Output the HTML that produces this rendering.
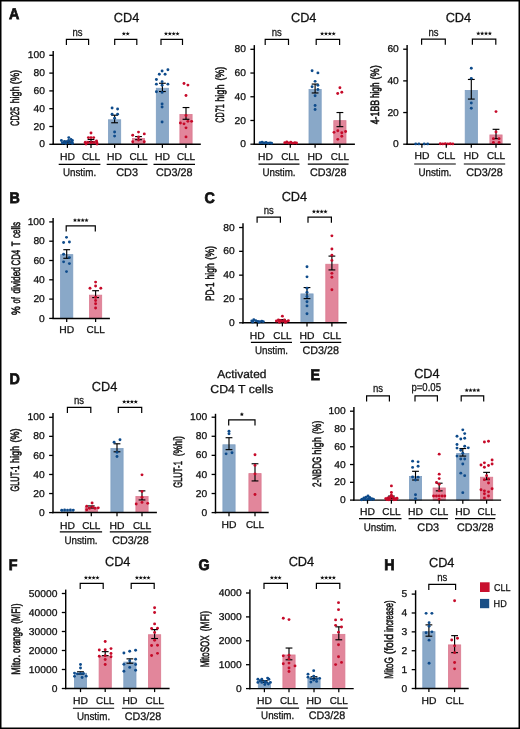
<!DOCTYPE html>
<html><head><meta charset="utf-8"><style>
html,body{margin:0;padding:0;background:#fff;}
svg{display:block;will-change:transform;}
text{text-rendering:geometricPrecision;font-family:"Liberation Sans",sans-serif;fill:#111;stroke:#111;stroke-width:0.28px;}
</style></head><body>
<svg width="520" height="729" viewBox="0 0 520 729">
<defs><g id="ast"><circle r="1.15" fill="#111"/><path d="M0,0L0.00,-1.55M0,0L1.47,-0.48M0,0L0.91,1.25M0,0L-0.91,1.25M0,0L-1.47,-0.48" stroke="#111" stroke-width="0.6" stroke-linecap="round"/></g></defs>
<rect x="0" y="0" width="520" height="729" fill="#fff"/>
<rect x="61.30" y="142.48" width="12.20" height="1.82" fill="#89a8c8" stroke="#7f9fc2" stroke-width="0.8"/>
<rect x="84.90" y="141.14" width="12.20" height="3.16" fill="#e2869b" stroke="#db7b91" stroke-width="0.8"/>
<rect x="108.50" y="119.78" width="12.20" height="24.52" fill="#89a8c8" stroke="#7f9fc2" stroke-width="0.8"/>
<rect x="132.40" y="138.47" width="12.20" height="5.83" fill="#e2869b" stroke="#db7b91" stroke-width="0.8"/>
<rect x="156.30" y="88.27" width="12.20" height="56.03" fill="#89a8c8" stroke="#7f9fc2" stroke-width="0.8"/>
<rect x="179.90" y="114.44" width="12.20" height="29.86" fill="#e2869b" stroke="#db7b91" stroke-width="0.8"/>
<line x1="53.20" y1="51.00" x2="53.20" y2="145.00" stroke="#000" stroke-width="1.45"/>
<line x1="52.50" y1="144.30" x2="200.80" y2="144.30" stroke="#000" stroke-width="1.45"/>
<line x1="67.40" y1="142.70" x2="67.40" y2="141.27" stroke="#000" stroke-width="1.15"/>
<line x1="64.00" y1="142.70" x2="70.80" y2="142.70" stroke="#000" stroke-width="1.15"/>
<line x1="64.00" y1="141.27" x2="70.80" y2="141.27" stroke="#000" stroke-width="1.15"/>
<line x1="91.00" y1="141.63" x2="91.00" y2="139.41" stroke="#000" stroke-width="1.15"/>
<line x1="87.60" y1="141.63" x2="94.40" y2="141.63" stroke="#000" stroke-width="1.15"/>
<line x1="87.60" y1="139.41" x2="94.40" y2="139.41" stroke="#000" stroke-width="1.15"/>
<line x1="114.60" y1="122.76" x2="114.60" y2="115.20" stroke="#000" stroke-width="1.15"/>
<line x1="111.20" y1="122.76" x2="118.00" y2="122.76" stroke="#000" stroke-width="1.15"/>
<line x1="111.20" y1="115.20" x2="118.00" y2="115.20" stroke="#000" stroke-width="1.15"/>
<line x1="138.50" y1="139.67" x2="138.50" y2="136.56" stroke="#000" stroke-width="1.15"/>
<line x1="135.10" y1="139.67" x2="141.90" y2="139.67" stroke="#000" stroke-width="1.15"/>
<line x1="135.10" y1="136.56" x2="141.90" y2="136.56" stroke="#000" stroke-width="1.15"/>
<line x1="162.40" y1="91.52" x2="162.40" y2="83.25" stroke="#000" stroke-width="1.15"/>
<line x1="159.00" y1="91.52" x2="165.80" y2="91.52" stroke="#000" stroke-width="1.15"/>
<line x1="159.00" y1="83.25" x2="165.80" y2="83.25" stroke="#000" stroke-width="1.15"/>
<line x1="186.00" y1="119.29" x2="186.00" y2="107.54" stroke="#000" stroke-width="1.15"/>
<line x1="182.60" y1="119.29" x2="189.40" y2="119.29" stroke="#000" stroke-width="1.15"/>
<line x1="182.60" y1="107.54" x2="189.40" y2="107.54" stroke="#000" stroke-width="1.15"/>
<circle cx="68.80" cy="137.62" r="1.45" fill="#0e4b8b"/>
<circle cx="71.00" cy="139.49" r="1.45" fill="#0e4b8b"/>
<circle cx="72.40" cy="140.47" r="1.45" fill="#0e4b8b"/>
<circle cx="61.40" cy="140.47" r="1.45" fill="#0e4b8b"/>
<circle cx="63.80" cy="142.43" r="1.45" fill="#0e4b8b"/>
<circle cx="66.60" cy="141.72" r="1.45" fill="#0e4b8b"/>
<circle cx="69.50" cy="142.88" r="1.45" fill="#0e4b8b"/>
<circle cx="72.40" cy="143.41" r="1.45" fill="#0e4b8b"/>
<circle cx="65.70" cy="143.41" r="1.45" fill="#0e4b8b"/>
<circle cx="68.60" cy="140.47" r="1.45" fill="#0e4b8b"/>
<circle cx="62.40" cy="142.97" r="1.45" fill="#0e4b8b"/>
<circle cx="64.40" cy="141.45" r="1.45" fill="#0e4b8b"/>
<circle cx="71.90" cy="142.08" r="1.45" fill="#0e4b8b"/>
<circle cx="91.00" cy="133.00" r="1.45" fill="#c60a29"/>
<circle cx="88.40" cy="137.62" r="1.45" fill="#c60a29"/>
<circle cx="91.00" cy="137.62" r="1.45" fill="#c60a29"/>
<circle cx="93.70" cy="137.62" r="1.45" fill="#c60a29"/>
<circle cx="85.20" cy="142.52" r="1.45" fill="#c60a29"/>
<circle cx="87.90" cy="142.52" r="1.45" fill="#c60a29"/>
<circle cx="91.00" cy="142.52" r="1.45" fill="#c60a29"/>
<circle cx="93.70" cy="142.52" r="1.45" fill="#c60a29"/>
<circle cx="96.80" cy="142.52" r="1.45" fill="#c60a29"/>
<circle cx="86.00" cy="143.94" r="1.45" fill="#c60a29"/>
<circle cx="97.00" cy="143.94" r="1.45" fill="#c60a29"/>
<circle cx="96.50" cy="141.01" r="1.45" fill="#c60a29"/>
<circle cx="112.10" cy="107.99" r="1.45" fill="#0e4b8b"/>
<circle cx="117.60" cy="108.97" r="1.45" fill="#0e4b8b"/>
<circle cx="112.10" cy="114.13" r="1.45" fill="#0e4b8b"/>
<circle cx="117.60" cy="114.13" r="1.45" fill="#0e4b8b"/>
<circle cx="114.60" cy="118.13" r="1.45" fill="#0e4b8b"/>
<circle cx="114.60" cy="132.02" r="1.45" fill="#0e4b8b"/>
<circle cx="114.60" cy="136.11" r="1.45" fill="#0e4b8b"/>
<circle cx="138.50" cy="132.11" r="1.45" fill="#c60a29"/>
<circle cx="132.70" cy="135.22" r="1.45" fill="#c60a29"/>
<circle cx="144.30" cy="133.89" r="1.45" fill="#c60a29"/>
<circle cx="138.50" cy="137.00" r="1.45" fill="#c60a29"/>
<circle cx="138.50" cy="140.03" r="1.45" fill="#c60a29"/>
<circle cx="132.70" cy="141.72" r="1.45" fill="#c60a29"/>
<circle cx="144.30" cy="141.72" r="1.45" fill="#c60a29"/>
<circle cx="167.90" cy="69.81" r="1.45" fill="#0e4b8b"/>
<circle cx="162.10" cy="70.96" r="1.45" fill="#0e4b8b"/>
<circle cx="159.30" cy="74.26" r="1.45" fill="#0e4b8b"/>
<circle cx="165.10" cy="74.26" r="1.45" fill="#0e4b8b"/>
<circle cx="156.40" cy="79.51" r="1.45" fill="#0e4b8b"/>
<circle cx="162.10" cy="81.64" r="1.45" fill="#0e4b8b"/>
<circle cx="156.40" cy="84.14" r="1.45" fill="#0e4b8b"/>
<circle cx="167.90" cy="84.14" r="1.45" fill="#0e4b8b"/>
<circle cx="162.10" cy="85.29" r="1.45" fill="#0e4b8b"/>
<circle cx="156.40" cy="91.79" r="1.45" fill="#0e4b8b"/>
<circle cx="162.10" cy="92.41" r="1.45" fill="#0e4b8b"/>
<circle cx="162.10" cy="103.89" r="1.45" fill="#0e4b8b"/>
<circle cx="162.10" cy="107.01" r="1.45" fill="#0e4b8b"/>
<circle cx="162.10" cy="122.05" r="1.45" fill="#0e4b8b"/>
<circle cx="184.00" cy="83.51" r="1.45" fill="#c60a29"/>
<circle cx="187.90" cy="85.12" r="1.45" fill="#c60a29"/>
<circle cx="186.00" cy="95.53" r="1.45" fill="#c60a29"/>
<circle cx="186.00" cy="115.55" r="1.45" fill="#c60a29"/>
<circle cx="180.40" cy="122.94" r="1.45" fill="#c60a29"/>
<circle cx="184.00" cy="123.83" r="1.45" fill="#c60a29"/>
<circle cx="187.90" cy="121.34" r="1.45" fill="#c60a29"/>
<circle cx="191.60" cy="121.34" r="1.45" fill="#c60a29"/>
<circle cx="186.00" cy="127.84" r="1.45" fill="#c60a29"/>
<circle cx="186.00" cy="136.91" r="1.45" fill="#c60a29"/>
<line x1="49.30" y1="144.30" x2="53.20" y2="144.30" stroke="#000" stroke-width="1.3"/>
<text transform="translate(44.90,147.40) scale(1.04,1)" font-size="9.9" text-anchor="end" >0</text>
<line x1="49.30" y1="126.50" x2="53.20" y2="126.50" stroke="#000" stroke-width="1.3"/>
<text transform="translate(44.90,129.60) scale(1.04,1)" font-size="9.9" text-anchor="end" >20</text>
<line x1="49.30" y1="108.70" x2="53.20" y2="108.70" stroke="#000" stroke-width="1.3"/>
<text transform="translate(44.90,111.80) scale(1.04,1)" font-size="9.9" text-anchor="end" >40</text>
<line x1="49.30" y1="90.90" x2="53.20" y2="90.90" stroke="#000" stroke-width="1.3"/>
<text transform="translate(44.90,94.00) scale(1.04,1)" font-size="9.9" text-anchor="end" >60</text>
<line x1="49.30" y1="73.10" x2="53.20" y2="73.10" stroke="#000" stroke-width="1.3"/>
<text transform="translate(44.90,76.20) scale(1.04,1)" font-size="9.9" text-anchor="end" >80</text>
<line x1="49.30" y1="55.30" x2="53.20" y2="55.30" stroke="#000" stroke-width="1.3"/>
<text transform="translate(44.90,58.40) scale(1.04,1)" font-size="9.9" text-anchor="end" >100</text>
<line x1="67.40" y1="144.30" x2="67.40" y2="147.90" stroke="#000" stroke-width="1.25"/>
<text x="67.40" y="159.70" font-size="10.0" text-anchor="middle" textLength="14.94" lengthAdjust="spacingAndGlyphs" >HD</text>
<line x1="91.00" y1="144.30" x2="91.00" y2="147.90" stroke="#000" stroke-width="1.25"/>
<text x="91.00" y="159.70" font-size="10.0" text-anchor="middle" textLength="18.23" lengthAdjust="spacingAndGlyphs" >CLL</text>
<line x1="114.60" y1="144.30" x2="114.60" y2="147.90" stroke="#000" stroke-width="1.25"/>
<text x="114.60" y="159.70" font-size="10.0" text-anchor="middle" textLength="14.94" lengthAdjust="spacingAndGlyphs" >HD</text>
<line x1="138.50" y1="144.30" x2="138.50" y2="147.90" stroke="#000" stroke-width="1.25"/>
<text x="138.50" y="159.70" font-size="10.0" text-anchor="middle" textLength="18.23" lengthAdjust="spacingAndGlyphs" >CLL</text>
<line x1="162.40" y1="144.30" x2="162.40" y2="147.90" stroke="#000" stroke-width="1.25"/>
<text x="162.40" y="159.70" font-size="10.0" text-anchor="middle" textLength="14.94" lengthAdjust="spacingAndGlyphs" >HD</text>
<line x1="186.00" y1="144.30" x2="186.00" y2="147.90" stroke="#000" stroke-width="1.25"/>
<text x="186.00" y="159.70" font-size="10.0" text-anchor="middle" textLength="18.23" lengthAdjust="spacingAndGlyphs" >CLL</text>
<line x1="58.70" y1="164.40" x2="100.40" y2="164.40" stroke="#000" stroke-width="1.1"/>
<text x="79.55" y="175.90" font-size="11.0" text-anchor="middle" textLength="33.15" lengthAdjust="spacingAndGlyphs" >Unstim.</text>
<line x1="106.70" y1="164.40" x2="147.50" y2="164.40" stroke="#000" stroke-width="1.1"/>
<text x="127.10" y="175.90" font-size="11.0" text-anchor="middle" textLength="21.83" lengthAdjust="spacingAndGlyphs" >CD3</text>
<line x1="153.50" y1="164.40" x2="195.00" y2="164.40" stroke="#000" stroke-width="1.1"/>
<text x="174.25" y="175.90" font-size="11.0" text-anchor="middle" textLength="36.51" lengthAdjust="spacingAndGlyphs" >CD3/28</text>
<polyline points="66.40,44.90 66.40,39.30 88.60,39.30 88.60,44.90" fill="none" stroke="#000" stroke-width="1.2"/>
<text transform="translate(77.50,35.80) scale(0.84,1)" font-size="11.4" text-anchor="middle" >ns</text>
<polyline points="114.70,44.90 114.70,39.30 136.80,39.30 136.80,44.90" fill="none" stroke="#000" stroke-width="1.2"/>
<use href="#ast" x="123.83" y="33.80"/>
<use href="#ast" x="127.67" y="33.80"/>
<polyline points="161.00,44.90 161.00,39.30 182.50,39.30 182.50,44.90" fill="none" stroke="#000" stroke-width="1.2"/>
<use href="#ast" x="165.97" y="33.80"/>
<use href="#ast" x="169.82" y="33.80"/>
<use href="#ast" x="173.67" y="33.80"/>
<use href="#ast" x="177.53" y="33.80"/>
<text transform="translate(126.60,21.90) scale(0.975,1)" font-size="13.1" text-anchor="middle" >CD4</text>
<text transform="translate(19.30,84.17) rotate(-90)" font-size="12.1" text-anchor="start" textLength="14.24" lengthAdjust="spacingAndGlyphs" style="stroke-width:0.55px">(%)</text>
<text transform="translate(19.30,103.53) rotate(-90)" font-size="12.1" text-anchor="start" textLength="17.12" lengthAdjust="spacingAndGlyphs" style="stroke-width:0.55px">high</text>
<text transform="translate(19.30,125.98) rotate(-90)" font-size="12.1" text-anchor="start" textLength="19.20" lengthAdjust="spacingAndGlyphs" style="stroke-width:0.55px">CD25</text>
<rect x="259.50" y="143.65" width="12.20" height="0.55" fill="#89a8c8" stroke="#7f9fc2" stroke-width="0.8"/>
<rect x="284.20" y="143.41" width="12.20" height="0.79" fill="#e2869b" stroke="#db7b91" stroke-width="0.8"/>
<rect x="309.00" y="89.57" width="12.20" height="54.63" fill="#89a8c8" stroke="#7f9fc2" stroke-width="0.8"/>
<rect x="333.80" y="120.64" width="12.20" height="23.56" fill="#e2869b" stroke="#db7b91" stroke-width="0.8"/>
<line x1="254.30" y1="45.10" x2="254.30" y2="144.90" stroke="#000" stroke-width="1.45"/>
<line x1="253.60" y1="144.20" x2="354.90" y2="144.20" stroke="#000" stroke-width="1.45"/>
<line x1="315.10" y1="92.96" x2="315.10" y2="84.07" stroke="#000" stroke-width="1.15"/>
<line x1="311.70" y1="92.96" x2="318.50" y2="92.96" stroke="#000" stroke-width="1.15"/>
<line x1="311.70" y1="84.07" x2="318.50" y2="84.07" stroke="#000" stroke-width="1.15"/>
<line x1="339.90" y1="126.65" x2="339.90" y2="112.53" stroke="#000" stroke-width="1.15"/>
<line x1="336.50" y1="126.65" x2="343.30" y2="126.65" stroke="#000" stroke-width="1.15"/>
<line x1="336.50" y1="112.53" x2="343.30" y2="112.53" stroke="#000" stroke-width="1.15"/>
<circle cx="260.10" cy="142.78" r="1.45" fill="#0e4b8b"/>
<circle cx="262.10" cy="142.18" r="1.45" fill="#0e4b8b"/>
<circle cx="264.10" cy="143.01" r="1.45" fill="#0e4b8b"/>
<circle cx="266.10" cy="142.54" r="1.45" fill="#0e4b8b"/>
<circle cx="268.10" cy="143.25" r="1.45" fill="#0e4b8b"/>
<circle cx="270.10" cy="142.90" r="1.45" fill="#0e4b8b"/>
<circle cx="271.60" cy="143.13" r="1.45" fill="#0e4b8b"/>
<circle cx="284.80" cy="142.66" r="1.45" fill="#c60a29"/>
<circle cx="286.80" cy="141.95" r="1.45" fill="#c60a29"/>
<circle cx="288.80" cy="143.01" r="1.45" fill="#c60a29"/>
<circle cx="290.80" cy="142.30" r="1.45" fill="#c60a29"/>
<circle cx="292.80" cy="143.13" r="1.45" fill="#c60a29"/>
<circle cx="294.80" cy="142.78" r="1.45" fill="#c60a29"/>
<circle cx="296.50" cy="143.01" r="1.45" fill="#c60a29"/>
<circle cx="312.10" cy="70.79" r="1.45" fill="#0e4b8b"/>
<circle cx="317.90" cy="72.92" r="1.45" fill="#0e4b8b"/>
<circle cx="315.10" cy="81.34" r="1.45" fill="#0e4b8b"/>
<circle cx="312.10" cy="86.80" r="1.45" fill="#0e4b8b"/>
<circle cx="317.90" cy="85.26" r="1.45" fill="#0e4b8b"/>
<circle cx="317.90" cy="89.53" r="1.45" fill="#0e4b8b"/>
<circle cx="315.10" cy="95.81" r="1.45" fill="#0e4b8b"/>
<circle cx="315.10" cy="105.54" r="1.45" fill="#0e4b8b"/>
<circle cx="315.10" cy="109.45" r="1.45" fill="#0e4b8b"/>
<circle cx="339.90" cy="87.75" r="1.45" fill="#c60a29"/>
<circle cx="337.70" cy="93.56" r="1.45" fill="#c60a29"/>
<circle cx="341.80" cy="92.25" r="1.45" fill="#c60a29"/>
<circle cx="334.00" cy="132.34" r="1.45" fill="#c60a29"/>
<circle cx="337.80" cy="130.68" r="1.45" fill="#c60a29"/>
<circle cx="341.80" cy="132.70" r="1.45" fill="#c60a29"/>
<circle cx="345.60" cy="131.51" r="1.45" fill="#c60a29"/>
<circle cx="341.80" cy="136.25" r="1.45" fill="#c60a29"/>
<circle cx="337.80" cy="139.34" r="1.45" fill="#c60a29"/>
<line x1="250.40" y1="144.20" x2="254.30" y2="144.20" stroke="#000" stroke-width="1.3"/>
<text transform="translate(246.00,147.30) scale(1.04,1)" font-size="9.9" text-anchor="end" >0</text>
<line x1="250.40" y1="120.48" x2="254.30" y2="120.48" stroke="#000" stroke-width="1.3"/>
<text transform="translate(246.00,123.58) scale(1.04,1)" font-size="9.9" text-anchor="end" >20</text>
<line x1="250.40" y1="96.76" x2="254.30" y2="96.76" stroke="#000" stroke-width="1.3"/>
<text transform="translate(246.00,99.86) scale(1.04,1)" font-size="9.9" text-anchor="end" >40</text>
<line x1="250.40" y1="73.04" x2="254.30" y2="73.04" stroke="#000" stroke-width="1.3"/>
<text transform="translate(246.00,76.14) scale(1.04,1)" font-size="9.9" text-anchor="end" >60</text>
<line x1="250.40" y1="49.32" x2="254.30" y2="49.32" stroke="#000" stroke-width="1.3"/>
<text transform="translate(246.00,52.42) scale(1.04,1)" font-size="9.9" text-anchor="end" >80</text>
<line x1="265.60" y1="144.20" x2="265.60" y2="147.80" stroke="#000" stroke-width="1.25"/>
<text x="265.60" y="159.60" font-size="10.0" text-anchor="middle" textLength="14.94" lengthAdjust="spacingAndGlyphs" >HD</text>
<line x1="290.30" y1="144.20" x2="290.30" y2="147.80" stroke="#000" stroke-width="1.25"/>
<text x="290.30" y="159.60" font-size="10.0" text-anchor="middle" textLength="18.23" lengthAdjust="spacingAndGlyphs" >CLL</text>
<line x1="315.10" y1="144.20" x2="315.10" y2="147.80" stroke="#000" stroke-width="1.25"/>
<text x="315.10" y="159.60" font-size="10.0" text-anchor="middle" textLength="14.94" lengthAdjust="spacingAndGlyphs" >HD</text>
<line x1="339.90" y1="144.20" x2="339.90" y2="147.80" stroke="#000" stroke-width="1.25"/>
<text x="339.90" y="159.60" font-size="10.0" text-anchor="middle" textLength="18.23" lengthAdjust="spacingAndGlyphs" >CLL</text>
<line x1="258.50" y1="164.10" x2="299.50" y2="164.10" stroke="#000" stroke-width="1.1"/>
<text x="279.00" y="176.10" font-size="11.0" text-anchor="middle" textLength="33.15" lengthAdjust="spacingAndGlyphs" >Unstim.</text>
<line x1="307.80" y1="164.10" x2="348.50" y2="164.10" stroke="#000" stroke-width="1.1"/>
<text x="328.15" y="176.10" font-size="11.0" text-anchor="middle" textLength="36.51" lengthAdjust="spacingAndGlyphs" >CD3/28</text>
<polyline points="265.20,44.90 265.20,39.30 288.50,39.30 288.50,44.90" fill="none" stroke="#000" stroke-width="1.2"/>
<text transform="translate(276.85,35.80) scale(0.84,1)" font-size="11.4" text-anchor="middle" >ns</text>
<polyline points="316.20,44.90 316.20,39.30 339.60,39.30 339.60,44.90" fill="none" stroke="#000" stroke-width="1.2"/>
<use href="#ast" x="322.12" y="33.80"/>
<use href="#ast" x="325.98" y="33.80"/>
<use href="#ast" x="329.82" y="33.80"/>
<use href="#ast" x="333.68" y="33.80"/>
<text transform="translate(303.70,21.90) scale(0.975,1)" font-size="13.1" text-anchor="middle" >CD4</text>
<text transform="translate(224.40,80.45) rotate(-90)" font-size="12.1" text-anchor="start" textLength="13.69" lengthAdjust="spacingAndGlyphs" style="stroke-width:0.55px">(%)</text>
<text transform="translate(224.40,101.73) rotate(-90)" font-size="12.1" text-anchor="start" textLength="17.22" lengthAdjust="spacingAndGlyphs" style="stroke-width:0.55px">high</text>
<text transform="translate(224.40,122.77) rotate(-90)" font-size="12.1" text-anchor="start" textLength="18.42" lengthAdjust="spacingAndGlyphs" style="stroke-width:0.55px">CD71</text>
<rect x="415.40" y="144.20" width="13.00" height="0.00" fill="#89a8c8"/>
<rect x="439.80" y="144.20" width="13.00" height="0.00" fill="#e2869b"/>
<rect x="465.20" y="90.46" width="12.20" height="53.74" fill="#89a8c8" stroke="#7f9fc2" stroke-width="0.8"/>
<rect x="489.90" y="134.94" width="12.20" height="9.26" fill="#e2869b" stroke="#db7b91" stroke-width="0.8"/>
<line x1="407.10" y1="45.10" x2="407.10" y2="144.90" stroke="#000" stroke-width="1.45"/>
<line x1="406.40" y1="144.20" x2="510.80" y2="144.20" stroke="#000" stroke-width="1.45"/>
<line x1="471.30" y1="99.08" x2="471.30" y2="79.46" stroke="#000" stroke-width="1.15"/>
<line x1="467.90" y1="99.08" x2="474.70" y2="99.08" stroke="#000" stroke-width="1.15"/>
<line x1="467.90" y1="79.46" x2="474.70" y2="79.46" stroke="#000" stroke-width="1.15"/>
<line x1="496.00" y1="138.66" x2="496.00" y2="129.32" stroke="#000" stroke-width="1.15"/>
<line x1="492.60" y1="138.66" x2="499.40" y2="138.66" stroke="#000" stroke-width="1.15"/>
<line x1="492.60" y1="129.32" x2="499.40" y2="129.32" stroke="#000" stroke-width="1.15"/>
<circle cx="415.70" cy="143.88" r="1.45" fill="#0e4b8b"/>
<circle cx="418.90" cy="143.88" r="1.45" fill="#0e4b8b"/>
<circle cx="424.20" cy="143.88" r="1.45" fill="#0e4b8b"/>
<circle cx="427.70" cy="143.88" r="1.45" fill="#0e4b8b"/>
<circle cx="440.30" cy="143.73" r="1.45" fill="#c60a29"/>
<circle cx="442.80" cy="143.88" r="1.45" fill="#c60a29"/>
<circle cx="445.30" cy="143.73" r="1.45" fill="#c60a29"/>
<circle cx="447.80" cy="143.88" r="1.45" fill="#c60a29"/>
<circle cx="450.30" cy="143.73" r="1.45" fill="#c60a29"/>
<circle cx="452.80" cy="143.88" r="1.45" fill="#c60a29"/>
<circle cx="471.30" cy="68.22" r="1.45" fill="#0e4b8b"/>
<circle cx="471.30" cy="78.35" r="1.45" fill="#0e4b8b"/>
<circle cx="471.30" cy="103.04" r="1.45" fill="#0e4b8b"/>
<circle cx="471.30" cy="108.27" r="1.45" fill="#0e4b8b"/>
<circle cx="496.00" cy="111.59" r="1.45" fill="#c60a29"/>
<circle cx="496.00" cy="132.01" r="1.45" fill="#c60a29"/>
<circle cx="493.40" cy="138.66" r="1.45" fill="#c60a29"/>
<circle cx="499.10" cy="138.66" r="1.45" fill="#c60a29"/>
<circle cx="493.40" cy="142.46" r="1.45" fill="#c60a29"/>
<circle cx="499.10" cy="142.46" r="1.45" fill="#c60a29"/>
<line x1="403.20" y1="144.20" x2="407.10" y2="144.20" stroke="#000" stroke-width="1.3"/>
<text transform="translate(398.80,147.30) scale(1.04,1)" font-size="9.9" text-anchor="end" >0</text>
<line x1="403.20" y1="112.54" x2="407.10" y2="112.54" stroke="#000" stroke-width="1.3"/>
<text transform="translate(398.80,115.64) scale(1.04,1)" font-size="9.9" text-anchor="end" >20</text>
<line x1="403.20" y1="80.88" x2="407.10" y2="80.88" stroke="#000" stroke-width="1.3"/>
<text transform="translate(398.80,83.98) scale(1.04,1)" font-size="9.9" text-anchor="end" >40</text>
<line x1="403.20" y1="49.22" x2="407.10" y2="49.22" stroke="#000" stroke-width="1.3"/>
<text transform="translate(398.80,52.32) scale(1.04,1)" font-size="9.9" text-anchor="end" >60</text>
<line x1="421.90" y1="144.20" x2="421.90" y2="147.80" stroke="#000" stroke-width="1.25"/>
<text x="421.90" y="159.40" font-size="10.0" text-anchor="middle" textLength="14.94" lengthAdjust="spacingAndGlyphs" >HD</text>
<line x1="446.30" y1="144.20" x2="446.30" y2="147.80" stroke="#000" stroke-width="1.25"/>
<text x="446.30" y="159.40" font-size="10.0" text-anchor="middle" textLength="18.23" lengthAdjust="spacingAndGlyphs" >CLL</text>
<line x1="471.30" y1="144.20" x2="471.30" y2="147.80" stroke="#000" stroke-width="1.25"/>
<text x="471.30" y="159.40" font-size="10.0" text-anchor="middle" textLength="14.94" lengthAdjust="spacingAndGlyphs" >HD</text>
<line x1="496.00" y1="144.20" x2="496.00" y2="147.80" stroke="#000" stroke-width="1.25"/>
<text x="496.00" y="159.40" font-size="10.0" text-anchor="middle" textLength="18.23" lengthAdjust="spacingAndGlyphs" >CLL</text>
<line x1="414.20" y1="164.00" x2="455.80" y2="164.00" stroke="#000" stroke-width="1.1"/>
<text x="435.00" y="176.30" font-size="11.0" text-anchor="middle" textLength="33.15" lengthAdjust="spacingAndGlyphs" >Unstim.</text>
<line x1="463.80" y1="164.00" x2="505.20" y2="164.00" stroke="#000" stroke-width="1.1"/>
<text x="484.50" y="176.30" font-size="11.0" text-anchor="middle" textLength="36.51" lengthAdjust="spacingAndGlyphs" >CD3/28</text>
<polyline points="421.60,44.70 421.60,39.10 445.30,39.10 445.30,44.70" fill="none" stroke="#000" stroke-width="1.2"/>
<text transform="translate(433.45,35.60) scale(0.84,1)" font-size="11.4" text-anchor="middle" >ns</text>
<polyline points="472.40,44.70 472.40,39.10 495.80,39.10 495.80,44.70" fill="none" stroke="#000" stroke-width="1.2"/>
<use href="#ast" x="478.33" y="33.60"/>
<use href="#ast" x="482.18" y="33.60"/>
<use href="#ast" x="486.03" y="33.60"/>
<use href="#ast" x="489.88" y="33.60"/>
<text transform="translate(458.40,21.90) scale(0.975,1)" font-size="13.1" text-anchor="middle" >CD4</text>
<text transform="translate(378.60,79.46) rotate(-90)" font-size="12.1" text-anchor="start" textLength="14.13" lengthAdjust="spacingAndGlyphs" style="stroke-width:0.55px">(%)</text>
<text transform="translate(378.60,97.96) rotate(-90)" font-size="12.1" text-anchor="start" textLength="15.39" lengthAdjust="spacingAndGlyphs" style="stroke-width:0.55px">high</text>
<text transform="translate(378.60,124.30) rotate(-90)" font-size="12.1" text-anchor="start" textLength="24.47" lengthAdjust="spacingAndGlyphs" style="stroke-width:0.55px">4-1BB</text>
<rect x="60.60" y="254.63" width="12.20" height="63.77" fill="#89a8c8" stroke="#7f9fc2" stroke-width="0.8"/>
<rect x="89.50" y="295.16" width="12.20" height="23.24" fill="#e2869b" stroke="#db7b91" stroke-width="0.8"/>
<line x1="53.10" y1="218.00" x2="53.10" y2="319.10" stroke="#000" stroke-width="1.45"/>
<line x1="52.40" y1="318.40" x2="109.90" y2="318.40" stroke="#000" stroke-width="1.45"/>
<line x1="66.70" y1="258.28" x2="66.70" y2="249.69" stroke="#000" stroke-width="1.15"/>
<line x1="63.30" y1="258.28" x2="70.10" y2="258.28" stroke="#000" stroke-width="1.15"/>
<line x1="63.30" y1="249.69" x2="70.10" y2="249.69" stroke="#000" stroke-width="1.15"/>
<line x1="95.60" y1="297.56" x2="95.60" y2="290.70" stroke="#000" stroke-width="1.15"/>
<line x1="92.20" y1="297.56" x2="99.00" y2="297.56" stroke="#000" stroke-width="1.15"/>
<line x1="92.20" y1="290.70" x2="99.00" y2="290.70" stroke="#000" stroke-width="1.15"/>
<circle cx="66.50" cy="237.34" r="1.45" fill="#0e4b8b"/>
<circle cx="63.60" cy="242.45" r="1.45" fill="#0e4b8b"/>
<circle cx="69.40" cy="241.97" r="1.45" fill="#0e4b8b"/>
<circle cx="63.60" cy="254.23" r="1.45" fill="#0e4b8b"/>
<circle cx="69.40" cy="257.60" r="1.45" fill="#0e4b8b"/>
<circle cx="63.60" cy="261.85" r="1.45" fill="#0e4b8b"/>
<circle cx="69.40" cy="263.59" r="1.45" fill="#0e4b8b"/>
<circle cx="66.50" cy="271.60" r="1.45" fill="#0e4b8b"/>
<circle cx="95.60" cy="282.12" r="1.45" fill="#c60a29"/>
<circle cx="95.60" cy="286.07" r="1.45" fill="#c60a29"/>
<circle cx="90.00" cy="288.29" r="1.45" fill="#c60a29"/>
<circle cx="100.80" cy="288.29" r="1.45" fill="#c60a29"/>
<circle cx="95.60" cy="297.27" r="1.45" fill="#c60a29"/>
<circle cx="95.60" cy="300.45" r="1.45" fill="#c60a29"/>
<circle cx="95.60" cy="303.73" r="1.45" fill="#c60a29"/>
<circle cx="95.60" cy="308.07" r="1.45" fill="#c60a29"/>
<line x1="49.20" y1="318.40" x2="53.10" y2="318.40" stroke="#000" stroke-width="1.3"/>
<text transform="translate(44.80,321.50) scale(1.04,1)" font-size="9.9" text-anchor="end" >0</text>
<line x1="49.20" y1="299.10" x2="53.10" y2="299.10" stroke="#000" stroke-width="1.3"/>
<text transform="translate(44.80,302.20) scale(1.04,1)" font-size="9.9" text-anchor="end" >20</text>
<line x1="49.20" y1="279.80" x2="53.10" y2="279.80" stroke="#000" stroke-width="1.3"/>
<text transform="translate(44.80,282.90) scale(1.04,1)" font-size="9.9" text-anchor="end" >40</text>
<line x1="49.20" y1="260.50" x2="53.10" y2="260.50" stroke="#000" stroke-width="1.3"/>
<text transform="translate(44.80,263.60) scale(1.04,1)" font-size="9.9" text-anchor="end" >60</text>
<line x1="49.20" y1="241.20" x2="53.10" y2="241.20" stroke="#000" stroke-width="1.3"/>
<text transform="translate(44.80,244.30) scale(1.04,1)" font-size="9.9" text-anchor="end" >80</text>
<line x1="49.20" y1="221.90" x2="53.10" y2="221.90" stroke="#000" stroke-width="1.3"/>
<text transform="translate(44.80,225.00) scale(1.04,1)" font-size="9.9" text-anchor="end" >100</text>
<line x1="66.70" y1="318.40" x2="66.70" y2="322.00" stroke="#000" stroke-width="1.25"/>
<text x="66.70" y="333.40" font-size="10.0" text-anchor="middle" textLength="14.94" lengthAdjust="spacingAndGlyphs" >HD</text>
<line x1="95.60" y1="318.40" x2="95.60" y2="322.00" stroke="#000" stroke-width="1.25"/>
<text x="95.60" y="333.40" font-size="10.0" text-anchor="middle" textLength="18.23" lengthAdjust="spacingAndGlyphs" >CLL</text>
<polyline points="66.20,231.40 66.20,225.80 95.30,225.80 95.30,231.40" fill="none" stroke="#000" stroke-width="1.2"/>
<use href="#ast" x="74.97" y="220.30"/>
<use href="#ast" x="78.82" y="220.30"/>
<use href="#ast" x="82.67" y="220.30"/>
<use href="#ast" x="86.52" y="220.30"/>
<text transform="translate(19.50,238.04) rotate(-90)" font-size="12.1" text-anchor="start" textLength="16.13" lengthAdjust="spacingAndGlyphs" style="stroke-width:0.55px">cells</text>
<text transform="translate(19.50,246.27) rotate(-90)" font-size="12.1" text-anchor="start" textLength="4.75" lengthAdjust="spacingAndGlyphs" style="stroke-width:0.55px">T</text>
<text transform="translate(19.50,265.50) rotate(-90)" font-size="12.1" text-anchor="start" textLength="15.73" lengthAdjust="spacingAndGlyphs" style="stroke-width:0.55px">CD4</text>
<text transform="translate(19.50,293.55) rotate(-90)" font-size="12.1" text-anchor="start" textLength="26.59" lengthAdjust="spacingAndGlyphs" style="stroke-width:0.55px">divided</text>
<text transform="translate(19.50,303.42) rotate(-90)" font-size="12.1" text-anchor="start" textLength="6.41" lengthAdjust="spacingAndGlyphs" style="stroke-width:0.55px">of</text>
<text transform="translate(19.50,315.05) rotate(-90)" font-size="12.1" text-anchor="start" textLength="8.81" lengthAdjust="spacingAndGlyphs" style="stroke-width:0.55px">%</text>
<rect x="251.20" y="322.01" width="12.20" height="0.79" fill="#89a8c8" stroke="#7f9fc2" stroke-width="0.8"/>
<rect x="276.30" y="320.82" width="12.20" height="1.98" fill="#e2869b" stroke="#db7b91" stroke-width="0.8"/>
<rect x="300.90" y="293.90" width="12.20" height="28.90" fill="#89a8c8" stroke="#7f9fc2" stroke-width="0.8"/>
<rect x="325.80" y="264.25" width="12.20" height="58.55" fill="#e2869b" stroke="#db7b91" stroke-width="0.8"/>
<line x1="243.00" y1="223.30" x2="243.00" y2="323.50" stroke="#000" stroke-width="1.45"/>
<line x1="242.30" y1="322.80" x2="346.80" y2="322.80" stroke="#000" stroke-width="1.45"/>
<line x1="282.40" y1="321.01" x2="282.40" y2="319.70" stroke="#000" stroke-width="1.15"/>
<line x1="279.00" y1="321.01" x2="285.80" y2="321.01" stroke="#000" stroke-width="1.15"/>
<line x1="279.00" y1="319.70" x2="285.80" y2="319.70" stroke="#000" stroke-width="1.15"/>
<line x1="307.00" y1="298.62" x2="307.00" y2="287.55" stroke="#000" stroke-width="1.15"/>
<line x1="303.60" y1="298.62" x2="310.40" y2="298.62" stroke="#000" stroke-width="1.15"/>
<line x1="303.60" y1="287.55" x2="310.40" y2="287.55" stroke="#000" stroke-width="1.15"/>
<line x1="331.90" y1="269.92" x2="331.90" y2="256.10" stroke="#000" stroke-width="1.15"/>
<line x1="328.50" y1="269.92" x2="335.30" y2="269.92" stroke="#000" stroke-width="1.15"/>
<line x1="328.50" y1="256.10" x2="335.30" y2="256.10" stroke="#000" stroke-width="1.15"/>
<circle cx="251.80" cy="321.01" r="1.45" fill="#0e4b8b"/>
<circle cx="253.80" cy="319.82" r="1.45" fill="#0e4b8b"/>
<circle cx="255.80" cy="320.66" r="1.45" fill="#0e4b8b"/>
<circle cx="257.80" cy="321.37" r="1.45" fill="#0e4b8b"/>
<circle cx="259.80" cy="321.61" r="1.45" fill="#0e4b8b"/>
<circle cx="261.80" cy="321.13" r="1.45" fill="#0e4b8b"/>
<circle cx="263.30" cy="321.61" r="1.45" fill="#0e4b8b"/>
<circle cx="252.80" cy="322.09" r="1.45" fill="#0e4b8b"/>
<circle cx="258.80" cy="322.20" r="1.45" fill="#0e4b8b"/>
<circle cx="282.40" cy="316.13" r="1.45" fill="#c60a29"/>
<circle cx="276.40" cy="321.01" r="1.45" fill="#c60a29"/>
<circle cx="278.40" cy="320.06" r="1.45" fill="#c60a29"/>
<circle cx="280.40" cy="320.42" r="1.45" fill="#c60a29"/>
<circle cx="282.40" cy="321.37" r="1.45" fill="#c60a29"/>
<circle cx="284.40" cy="319.94" r="1.45" fill="#c60a29"/>
<circle cx="286.40" cy="321.61" r="1.45" fill="#c60a29"/>
<circle cx="288.40" cy="320.66" r="1.45" fill="#c60a29"/>
<circle cx="279.40" cy="322.20" r="1.45" fill="#c60a29"/>
<circle cx="285.40" cy="322.20" r="1.45" fill="#c60a29"/>
<circle cx="307.00" cy="266.82" r="1.45" fill="#0e4b8b"/>
<circle cx="307.00" cy="276.83" r="1.45" fill="#0e4b8b"/>
<circle cx="307.00" cy="288.26" r="1.45" fill="#0e4b8b"/>
<circle cx="307.00" cy="292.31" r="1.45" fill="#0e4b8b"/>
<circle cx="307.00" cy="296.48" r="1.45" fill="#0e4b8b"/>
<circle cx="307.00" cy="301.72" r="1.45" fill="#0e4b8b"/>
<circle cx="307.00" cy="305.89" r="1.45" fill="#0e4b8b"/>
<circle cx="307.00" cy="313.75" r="1.45" fill="#0e4b8b"/>
<circle cx="331.90" cy="235.86" r="1.45" fill="#c60a29"/>
<circle cx="331.90" cy="248.96" r="1.45" fill="#c60a29"/>
<circle cx="331.90" cy="255.15" r="1.45" fill="#c60a29"/>
<circle cx="331.90" cy="260.39" r="1.45" fill="#c60a29"/>
<circle cx="331.90" cy="273.37" r="1.45" fill="#c60a29"/>
<circle cx="331.90" cy="277.18" r="1.45" fill="#c60a29"/>
<circle cx="331.90" cy="289.81" r="1.45" fill="#c60a29"/>
<line x1="239.10" y1="322.80" x2="243.00" y2="322.80" stroke="#000" stroke-width="1.3"/>
<text transform="translate(234.70,325.90) scale(1.04,1)" font-size="9.9" text-anchor="end" >0</text>
<line x1="239.10" y1="298.98" x2="243.00" y2="298.98" stroke="#000" stroke-width="1.3"/>
<text transform="translate(234.70,302.08) scale(1.04,1)" font-size="9.9" text-anchor="end" >20</text>
<line x1="239.10" y1="275.16" x2="243.00" y2="275.16" stroke="#000" stroke-width="1.3"/>
<text transform="translate(234.70,278.26) scale(1.04,1)" font-size="9.9" text-anchor="end" >40</text>
<line x1="239.10" y1="251.34" x2="243.00" y2="251.34" stroke="#000" stroke-width="1.3"/>
<text transform="translate(234.70,254.44) scale(1.04,1)" font-size="9.9" text-anchor="end" >60</text>
<line x1="239.10" y1="227.52" x2="243.00" y2="227.52" stroke="#000" stroke-width="1.3"/>
<text transform="translate(234.70,230.62) scale(1.04,1)" font-size="9.9" text-anchor="end" >80</text>
<line x1="257.30" y1="322.80" x2="257.30" y2="326.40" stroke="#000" stroke-width="1.25"/>
<text x="257.30" y="338.60" font-size="10.0" text-anchor="middle" textLength="14.94" lengthAdjust="spacingAndGlyphs" >HD</text>
<line x1="282.40" y1="322.80" x2="282.40" y2="326.40" stroke="#000" stroke-width="1.25"/>
<text x="282.40" y="338.60" font-size="10.0" text-anchor="middle" textLength="18.23" lengthAdjust="spacingAndGlyphs" >CLL</text>
<line x1="307.00" y1="322.80" x2="307.00" y2="326.40" stroke="#000" stroke-width="1.25"/>
<text x="307.00" y="338.60" font-size="10.0" text-anchor="middle" textLength="14.94" lengthAdjust="spacingAndGlyphs" >HD</text>
<line x1="331.90" y1="322.80" x2="331.90" y2="326.40" stroke="#000" stroke-width="1.25"/>
<text x="331.90" y="338.60" font-size="10.0" text-anchor="middle" textLength="18.23" lengthAdjust="spacingAndGlyphs" >CLL</text>
<line x1="250.90" y1="342.40" x2="292.00" y2="342.40" stroke="#000" stroke-width="1.1"/>
<text x="271.45" y="353.90" font-size="11.0" text-anchor="middle" textLength="33.15" lengthAdjust="spacingAndGlyphs" >Unstim.</text>
<line x1="300.20" y1="342.40" x2="341.30" y2="342.40" stroke="#000" stroke-width="1.1"/>
<text x="320.75" y="353.90" font-size="11.0" text-anchor="middle" textLength="36.51" lengthAdjust="spacingAndGlyphs" >CD3/28</text>
<polyline points="257.10,222.80 257.10,217.20 280.40,217.20 280.40,222.80" fill="none" stroke="#000" stroke-width="1.2"/>
<text transform="translate(268.75,213.70) scale(0.84,1)" font-size="11.4" text-anchor="middle" >ns</text>
<polyline points="308.00,222.80 308.00,217.20 331.40,217.20 331.40,222.80" fill="none" stroke="#000" stroke-width="1.2"/>
<use href="#ast" x="313.93" y="211.70"/>
<use href="#ast" x="317.78" y="211.70"/>
<use href="#ast" x="321.62" y="211.70"/>
<use href="#ast" x="325.48" y="211.70"/>
<text transform="translate(294.40,201.00) scale(0.975,1)" font-size="13.1" text-anchor="middle" >CD4</text>
<text transform="translate(214.40,259.75) rotate(-90)" font-size="12.1" text-anchor="start" textLength="13.69" lengthAdjust="spacingAndGlyphs" style="stroke-width:0.55px">(%)</text>
<text transform="translate(214.40,279.49) rotate(-90)" font-size="12.1" text-anchor="start" textLength="16.15" lengthAdjust="spacingAndGlyphs" style="stroke-width:0.55px">high</text>
<text transform="translate(214.40,300.97) rotate(-90)" font-size="12.1" text-anchor="start" textLength="18.57" lengthAdjust="spacingAndGlyphs" style="stroke-width:0.55px">PD-1</text>
<rect x="61.40" y="510.90" width="12.20" height="1.70" fill="#89a8c8" stroke="#7f9fc2" stroke-width="0.8"/>
<rect x="85.20" y="507.28" width="12.20" height="5.32" fill="#e2869b" stroke="#db7b91" stroke-width="0.8"/>
<rect x="110.90" y="448.58" width="12.20" height="64.02" fill="#89a8c8" stroke="#7f9fc2" stroke-width="0.8"/>
<rect x="135.90" y="496.51" width="12.20" height="16.09" fill="#e2869b" stroke="#db7b91" stroke-width="0.8"/>
<line x1="53.00" y1="413.00" x2="53.00" y2="513.30" stroke="#000" stroke-width="1.45"/>
<line x1="52.30" y1="512.60" x2="156.90" y2="512.60" stroke="#000" stroke-width="1.45"/>
<line x1="91.30" y1="508.03" x2="91.30" y2="505.93" stroke="#000" stroke-width="1.15"/>
<line x1="87.90" y1="508.03" x2="94.70" y2="508.03" stroke="#000" stroke-width="1.15"/>
<line x1="87.90" y1="505.93" x2="94.70" y2="505.93" stroke="#000" stroke-width="1.15"/>
<line x1="117.00" y1="451.80" x2="117.00" y2="443.79" stroke="#000" stroke-width="1.15"/>
<line x1="113.60" y1="451.80" x2="120.40" y2="451.80" stroke="#000" stroke-width="1.15"/>
<line x1="113.60" y1="443.79" x2="120.40" y2="443.79" stroke="#000" stroke-width="1.15"/>
<line x1="142.00" y1="499.93" x2="142.00" y2="490.87" stroke="#000" stroke-width="1.15"/>
<line x1="138.60" y1="499.93" x2="145.40" y2="499.93" stroke="#000" stroke-width="1.15"/>
<line x1="138.60" y1="490.87" x2="145.40" y2="490.87" stroke="#000" stroke-width="1.15"/>
<circle cx="61.70" cy="510.31" r="1.45" fill="#0e4b8b"/>
<circle cx="64.60" cy="509.93" r="1.45" fill="#0e4b8b"/>
<circle cx="67.50" cy="510.12" r="1.45" fill="#0e4b8b"/>
<circle cx="70.40" cy="509.93" r="1.45" fill="#0e4b8b"/>
<circle cx="73.30" cy="510.12" r="1.45" fill="#0e4b8b"/>
<circle cx="92.10" cy="502.97" r="1.45" fill="#c60a29"/>
<circle cx="86.70" cy="506.31" r="1.45" fill="#c60a29"/>
<circle cx="89.60" cy="508.22" r="1.45" fill="#c60a29"/>
<circle cx="95.00" cy="508.22" r="1.45" fill="#c60a29"/>
<circle cx="98.30" cy="507.84" r="1.45" fill="#c60a29"/>
<circle cx="86.70" cy="509.74" r="1.45" fill="#c60a29"/>
<circle cx="92.50" cy="506.88" r="1.45" fill="#c60a29"/>
<circle cx="120.00" cy="439.79" r="1.45" fill="#0e4b8b"/>
<circle cx="114.10" cy="442.17" r="1.45" fill="#0e4b8b"/>
<circle cx="117.00" cy="452.37" r="1.45" fill="#0e4b8b"/>
<circle cx="117.00" cy="456.56" r="1.45" fill="#0e4b8b"/>
<circle cx="142.00" cy="474.86" r="1.45" fill="#c60a29"/>
<circle cx="142.00" cy="491.44" r="1.45" fill="#c60a29"/>
<circle cx="142.00" cy="497.16" r="1.45" fill="#c60a29"/>
<circle cx="136.20" cy="504.02" r="1.45" fill="#c60a29"/>
<circle cx="147.70" cy="503.36" r="1.45" fill="#c60a29"/>
<circle cx="142.00" cy="502.40" r="1.45" fill="#c60a29"/>
<line x1="49.10" y1="512.60" x2="53.00" y2="512.60" stroke="#000" stroke-width="1.3"/>
<text transform="translate(44.70,515.70) scale(1.04,1)" font-size="9.9" text-anchor="end" >0</text>
<line x1="49.10" y1="493.54" x2="53.00" y2="493.54" stroke="#000" stroke-width="1.3"/>
<text transform="translate(44.70,496.64) scale(1.04,1)" font-size="9.9" text-anchor="end" >20</text>
<line x1="49.10" y1="474.48" x2="53.00" y2="474.48" stroke="#000" stroke-width="1.3"/>
<text transform="translate(44.70,477.58) scale(1.04,1)" font-size="9.9" text-anchor="end" >40</text>
<line x1="49.10" y1="455.42" x2="53.00" y2="455.42" stroke="#000" stroke-width="1.3"/>
<text transform="translate(44.70,458.52) scale(1.04,1)" font-size="9.9" text-anchor="end" >60</text>
<line x1="49.10" y1="436.36" x2="53.00" y2="436.36" stroke="#000" stroke-width="1.3"/>
<text transform="translate(44.70,439.46) scale(1.04,1)" font-size="9.9" text-anchor="end" >80</text>
<line x1="49.10" y1="417.30" x2="53.00" y2="417.30" stroke="#000" stroke-width="1.3"/>
<text transform="translate(44.70,420.40) scale(1.04,1)" font-size="9.9" text-anchor="end" >100</text>
<line x1="67.50" y1="512.60" x2="67.50" y2="516.20" stroke="#000" stroke-width="1.25"/>
<text x="67.50" y="528.80" font-size="10.0" text-anchor="middle" textLength="14.94" lengthAdjust="spacingAndGlyphs" >HD</text>
<line x1="91.30" y1="512.60" x2="91.30" y2="516.20" stroke="#000" stroke-width="1.25"/>
<text x="91.30" y="528.80" font-size="10.0" text-anchor="middle" textLength="18.23" lengthAdjust="spacingAndGlyphs" >CLL</text>
<line x1="117.00" y1="512.60" x2="117.00" y2="516.20" stroke="#000" stroke-width="1.25"/>
<text x="117.00" y="528.80" font-size="10.0" text-anchor="middle" textLength="14.94" lengthAdjust="spacingAndGlyphs" >HD</text>
<line x1="142.00" y1="512.60" x2="142.00" y2="516.20" stroke="#000" stroke-width="1.25"/>
<text x="142.00" y="528.80" font-size="10.0" text-anchor="middle" textLength="18.23" lengthAdjust="spacingAndGlyphs" >CLL</text>
<line x1="59.80" y1="531.90" x2="102.10" y2="531.90" stroke="#000" stroke-width="1.1"/>
<text x="80.95" y="544.40" font-size="11.0" text-anchor="middle" textLength="33.15" lengthAdjust="spacingAndGlyphs" >Unstim.</text>
<line x1="109.80" y1="531.90" x2="151.20" y2="531.90" stroke="#000" stroke-width="1.1"/>
<text x="130.50" y="544.40" font-size="11.0" text-anchor="middle" textLength="36.51" lengthAdjust="spacingAndGlyphs" >CD3/28</text>
<polyline points="67.40,413.00 67.40,407.40 90.80,407.40 90.80,413.00" fill="none" stroke="#000" stroke-width="1.2"/>
<text transform="translate(79.10,403.90) scale(0.84,1)" font-size="11.4" text-anchor="middle" >ns</text>
<polyline points="118.30,413.00 118.30,407.40 141.70,407.40 141.70,413.00" fill="none" stroke="#000" stroke-width="1.2"/>
<use href="#ast" x="124.22" y="401.90"/>
<use href="#ast" x="128.07" y="401.90"/>
<use href="#ast" x="131.92" y="401.90"/>
<use href="#ast" x="135.78" y="401.90"/>
<text transform="translate(104.60,390.80) scale(0.975,1)" font-size="13.1" text-anchor="middle" >CD4</text>
<text transform="translate(19.40,442.56) rotate(-90)" font-size="12.1" text-anchor="start" textLength="14.02" lengthAdjust="spacingAndGlyphs" style="stroke-width:0.55px">(%)</text>
<text transform="translate(19.40,463.14) rotate(-90)" font-size="12.1" text-anchor="start" textLength="17.33" lengthAdjust="spacingAndGlyphs" style="stroke-width:0.55px">high</text>
<text transform="translate(19.40,491.57) rotate(-90)" font-size="12.1" text-anchor="start" textLength="26.03" lengthAdjust="spacingAndGlyphs" style="stroke-width:0.55px">GLUT-1</text>
<rect x="222.90" y="444.79" width="12.20" height="67.81" fill="#89a8c8" stroke="#7f9fc2" stroke-width="0.8"/>
<rect x="248.90" y="473.60" width="12.20" height="39.00" fill="#e2869b" stroke="#db7b91" stroke-width="0.8"/>
<line x1="215.50" y1="413.80" x2="215.50" y2="513.30" stroke="#000" stroke-width="1.45"/>
<line x1="214.80" y1="512.60" x2="268.70" y2="512.60" stroke="#000" stroke-width="1.45"/>
<line x1="229.00" y1="449.64" x2="229.00" y2="437.71" stroke="#000" stroke-width="1.15"/>
<line x1="225.60" y1="449.64" x2="232.40" y2="449.64" stroke="#000" stroke-width="1.15"/>
<line x1="225.60" y1="437.71" x2="232.40" y2="437.71" stroke="#000" stroke-width="1.15"/>
<line x1="255.00" y1="480.93" x2="255.00" y2="463.76" stroke="#000" stroke-width="1.15"/>
<line x1="251.60" y1="480.93" x2="258.40" y2="480.93" stroke="#000" stroke-width="1.15"/>
<line x1="251.60" y1="463.76" x2="258.40" y2="463.76" stroke="#000" stroke-width="1.15"/>
<circle cx="229.00" cy="431.22" r="1.45" fill="#0e4b8b"/>
<circle cx="229.00" cy="433.70" r="1.45" fill="#0e4b8b"/>
<circle cx="226.10" cy="453.83" r="1.45" fill="#0e4b8b"/>
<circle cx="232.00" cy="452.78" r="1.45" fill="#0e4b8b"/>
<circle cx="255.00" cy="454.79" r="1.45" fill="#c60a29"/>
<circle cx="255.00" cy="465.38" r="1.45" fill="#c60a29"/>
<circle cx="255.00" cy="473.96" r="1.45" fill="#c60a29"/>
<circle cx="255.00" cy="494.57" r="1.45" fill="#c60a29"/>
<line x1="211.60" y1="512.60" x2="215.50" y2="512.60" stroke="#000" stroke-width="1.3"/>
<text transform="translate(207.20,515.70) scale(1.04,1)" font-size="9.9" text-anchor="end" >0</text>
<line x1="211.60" y1="493.52" x2="215.50" y2="493.52" stroke="#000" stroke-width="1.3"/>
<text transform="translate(207.20,496.62) scale(1.04,1)" font-size="9.9" text-anchor="end" >20</text>
<line x1="211.60" y1="474.44" x2="215.50" y2="474.44" stroke="#000" stroke-width="1.3"/>
<text transform="translate(207.20,477.54) scale(1.04,1)" font-size="9.9" text-anchor="end" >40</text>
<line x1="211.60" y1="455.36" x2="215.50" y2="455.36" stroke="#000" stroke-width="1.3"/>
<text transform="translate(207.20,458.46) scale(1.04,1)" font-size="9.9" text-anchor="end" >60</text>
<line x1="211.60" y1="436.28" x2="215.50" y2="436.28" stroke="#000" stroke-width="1.3"/>
<text transform="translate(207.20,439.38) scale(1.04,1)" font-size="9.9" text-anchor="end" >80</text>
<line x1="211.60" y1="417.20" x2="215.50" y2="417.20" stroke="#000" stroke-width="1.3"/>
<text transform="translate(207.20,420.30) scale(1.04,1)" font-size="9.9" text-anchor="end" >100</text>
<line x1="229.00" y1="512.60" x2="229.00" y2="516.20" stroke="#000" stroke-width="1.25"/>
<text x="229.00" y="527.80" font-size="10.0" text-anchor="middle" textLength="14.94" lengthAdjust="spacingAndGlyphs" >HD</text>
<line x1="255.00" y1="512.60" x2="255.00" y2="516.20" stroke="#000" stroke-width="1.25"/>
<text x="255.00" y="527.80" font-size="10.0" text-anchor="middle" textLength="18.23" lengthAdjust="spacingAndGlyphs" >CLL</text>
<polyline points="228.70,425.50 228.70,419.90 255.00,419.90 255.00,425.50" fill="none" stroke="#000" stroke-width="1.2"/>
<use href="#ast" x="241.85" y="414.40"/>
<text x="241.90" y="377.60" font-size="11.6" text-anchor="middle" textLength="49.09" lengthAdjust="spacingAndGlyphs" >Activated</text>
<text x="241.80" y="392.80" font-size="11.6" text-anchor="middle" textLength="63.06" lengthAdjust="spacingAndGlyphs" >CD4 T cells</text>
<text transform="translate(182.00,456.34) rotate(-90)" font-size="12.1" text-anchor="start" textLength="20.38" lengthAdjust="spacingAndGlyphs" style="stroke-width:0.55px">(%hi)</text>
<text transform="translate(182.00,487.78) rotate(-90)" font-size="12.1" text-anchor="start" textLength="26.64" lengthAdjust="spacingAndGlyphs" style="stroke-width:0.55px">GLUT-1</text>
<rect x="361.40" y="498.72" width="12.20" height="1.38" fill="#89a8c8" stroke="#7f9fc2" stroke-width="0.8"/>
<rect x="385.30" y="497.83" width="12.20" height="2.27" fill="#e2869b" stroke="#db7b91" stroke-width="0.8"/>
<rect x="409.40" y="476.50" width="12.20" height="23.60" fill="#89a8c8" stroke="#7f9fc2" stroke-width="0.8"/>
<rect x="433.10" y="487.97" width="12.20" height="12.13" fill="#e2869b" stroke="#db7b91" stroke-width="0.8"/>
<rect x="456.70" y="453.56" width="12.20" height="46.54" fill="#89a8c8" stroke="#7f9fc2" stroke-width="0.8"/>
<rect x="480.50" y="477.21" width="12.20" height="22.89" fill="#e2869b" stroke="#db7b91" stroke-width="0.8"/>
<line x1="353.90" y1="407.10" x2="353.90" y2="500.80" stroke="#000" stroke-width="1.45"/>
<line x1="353.20" y1="500.10" x2="501.10" y2="500.10" stroke="#000" stroke-width="1.45"/>
<line x1="391.40" y1="498.32" x2="391.40" y2="496.10" stroke="#000" stroke-width="1.15"/>
<line x1="388.00" y1="498.32" x2="394.80" y2="498.32" stroke="#000" stroke-width="1.15"/>
<line x1="388.00" y1="496.10" x2="394.80" y2="496.10" stroke="#000" stroke-width="1.15"/>
<line x1="415.50" y1="480.01" x2="415.50" y2="471.30" stroke="#000" stroke-width="1.15"/>
<line x1="412.10" y1="480.01" x2="418.90" y2="480.01" stroke="#000" stroke-width="1.15"/>
<line x1="412.10" y1="471.30" x2="418.90" y2="471.30" stroke="#000" stroke-width="1.15"/>
<line x1="439.20" y1="490.85" x2="439.20" y2="483.21" stroke="#000" stroke-width="1.15"/>
<line x1="435.80" y1="490.85" x2="442.60" y2="490.85" stroke="#000" stroke-width="1.15"/>
<line x1="435.80" y1="483.21" x2="442.60" y2="483.21" stroke="#000" stroke-width="1.15"/>
<line x1="462.80" y1="456.09" x2="462.80" y2="448.54" stroke="#000" stroke-width="1.15"/>
<line x1="459.40" y1="456.09" x2="466.20" y2="456.09" stroke="#000" stroke-width="1.15"/>
<line x1="459.40" y1="448.54" x2="466.20" y2="448.54" stroke="#000" stroke-width="1.15"/>
<line x1="486.60" y1="479.65" x2="486.60" y2="472.36" stroke="#000" stroke-width="1.15"/>
<line x1="483.20" y1="479.65" x2="490.00" y2="479.65" stroke="#000" stroke-width="1.15"/>
<line x1="483.20" y1="472.36" x2="490.00" y2="472.36" stroke="#000" stroke-width="1.15"/>
<circle cx="362.20" cy="499.21" r="1.45" fill="#0e4b8b"/>
<circle cx="364.00" cy="497.88" r="1.45" fill="#0e4b8b"/>
<circle cx="366.00" cy="497.26" r="1.45" fill="#0e4b8b"/>
<circle cx="368.00" cy="496.01" r="1.45" fill="#0e4b8b"/>
<circle cx="369.70" cy="497.43" r="1.45" fill="#0e4b8b"/>
<circle cx="371.70" cy="498.59" r="1.45" fill="#0e4b8b"/>
<circle cx="373.50" cy="499.21" r="1.45" fill="#0e4b8b"/>
<circle cx="361.50" cy="499.74" r="1.45" fill="#0e4b8b"/>
<circle cx="365.00" cy="499.21" r="1.45" fill="#0e4b8b"/>
<circle cx="368.50" cy="498.77" r="1.45" fill="#0e4b8b"/>
<circle cx="371.00" cy="499.48" r="1.45" fill="#0e4b8b"/>
<circle cx="367.00" cy="499.83" r="1.45" fill="#0e4b8b"/>
<circle cx="391.40" cy="485.88" r="1.45" fill="#c60a29"/>
<circle cx="391.40" cy="492.54" r="1.45" fill="#c60a29"/>
<circle cx="391.40" cy="495.21" r="1.45" fill="#c60a29"/>
<circle cx="385.80" cy="498.59" r="1.45" fill="#c60a29"/>
<circle cx="387.90" cy="497.88" r="1.45" fill="#c60a29"/>
<circle cx="389.90" cy="499.21" r="1.45" fill="#c60a29"/>
<circle cx="392.90" cy="497.61" r="1.45" fill="#c60a29"/>
<circle cx="394.90" cy="498.77" r="1.45" fill="#c60a29"/>
<circle cx="397.00" cy="498.32" r="1.45" fill="#c60a29"/>
<circle cx="388.90" cy="499.83" r="1.45" fill="#c60a29"/>
<circle cx="393.90" cy="499.83" r="1.45" fill="#c60a29"/>
<circle cx="386.90" cy="499.66" r="1.45" fill="#c60a29"/>
<circle cx="395.90" cy="499.66" r="1.45" fill="#c60a29"/>
<circle cx="390.40" cy="496.99" r="1.45" fill="#c60a29"/>
<circle cx="392.40" cy="496.72" r="1.45" fill="#c60a29"/>
<circle cx="412.60" cy="461.16" r="1.45" fill="#0e4b8b"/>
<circle cx="418.10" cy="461.87" r="1.45" fill="#0e4b8b"/>
<circle cx="412.60" cy="467.38" r="1.45" fill="#0e4b8b"/>
<circle cx="418.10" cy="466.23" r="1.45" fill="#0e4b8b"/>
<circle cx="412.60" cy="476.99" r="1.45" fill="#0e4b8b"/>
<circle cx="418.10" cy="477.16" r="1.45" fill="#0e4b8b"/>
<circle cx="415.50" cy="480.01" r="1.45" fill="#0e4b8b"/>
<circle cx="415.50" cy="494.77" r="1.45" fill="#0e4b8b"/>
<circle cx="415.50" cy="498.68" r="1.45" fill="#0e4b8b"/>
<circle cx="439.20" cy="454.14" r="1.45" fill="#c60a29"/>
<circle cx="439.20" cy="474.14" r="1.45" fill="#c60a29"/>
<circle cx="439.20" cy="478.59" r="1.45" fill="#c60a29"/>
<circle cx="436.50" cy="482.50" r="1.45" fill="#c60a29"/>
<circle cx="439.20" cy="484.28" r="1.45" fill="#c60a29"/>
<circle cx="439.20" cy="490.85" r="1.45" fill="#c60a29"/>
<circle cx="433.60" cy="496.01" r="1.45" fill="#c60a29"/>
<circle cx="436.40" cy="496.01" r="1.45" fill="#c60a29"/>
<circle cx="439.20" cy="496.01" r="1.45" fill="#c60a29"/>
<circle cx="442.10" cy="496.01" r="1.45" fill="#c60a29"/>
<circle cx="444.80" cy="496.01" r="1.45" fill="#c60a29"/>
<circle cx="439.20" cy="499.57" r="1.45" fill="#c60a29"/>
<circle cx="462.80" cy="429.87" r="1.45" fill="#0e4b8b"/>
<circle cx="464.70" cy="433.60" r="1.45" fill="#0e4b8b"/>
<circle cx="457.00" cy="436.27" r="1.45" fill="#0e4b8b"/>
<circle cx="460.80" cy="438.94" r="1.45" fill="#0e4b8b"/>
<circle cx="464.70" cy="438.31" r="1.45" fill="#0e4b8b"/>
<circle cx="457.00" cy="444.45" r="1.45" fill="#0e4b8b"/>
<circle cx="457.00" cy="448.09" r="1.45" fill="#0e4b8b"/>
<circle cx="464.70" cy="446.32" r="1.45" fill="#0e4b8b"/>
<circle cx="468.30" cy="447.83" r="1.45" fill="#0e4b8b"/>
<circle cx="460.80" cy="450.23" r="1.45" fill="#0e4b8b"/>
<circle cx="462.80" cy="453.16" r="1.45" fill="#0e4b8b"/>
<circle cx="457.00" cy="456.09" r="1.45" fill="#0e4b8b"/>
<circle cx="460.80" cy="458.94" r="1.45" fill="#0e4b8b"/>
<circle cx="464.70" cy="458.94" r="1.45" fill="#0e4b8b"/>
<circle cx="462.80" cy="464.01" r="1.45" fill="#0e4b8b"/>
<circle cx="460.80" cy="473.16" r="1.45" fill="#0e4b8b"/>
<circle cx="464.70" cy="475.65" r="1.45" fill="#0e4b8b"/>
<circle cx="462.80" cy="492.63" r="1.45" fill="#0e4b8b"/>
<circle cx="484.40" cy="441.96" r="1.45" fill="#c60a29"/>
<circle cx="488.50" cy="441.25" r="1.45" fill="#c60a29"/>
<circle cx="492.10" cy="460.01" r="1.45" fill="#c60a29"/>
<circle cx="481.00" cy="465.07" r="1.45" fill="#c60a29"/>
<circle cx="484.40" cy="462.85" r="1.45" fill="#c60a29"/>
<circle cx="488.50" cy="465.52" r="1.45" fill="#c60a29"/>
<circle cx="492.10" cy="464.01" r="1.45" fill="#c60a29"/>
<circle cx="484.40" cy="467.21" r="1.45" fill="#c60a29"/>
<circle cx="486.60" cy="475.65" r="1.45" fill="#c60a29"/>
<circle cx="488.50" cy="478.85" r="1.45" fill="#c60a29"/>
<circle cx="484.40" cy="479.65" r="1.45" fill="#c60a29"/>
<circle cx="488.50" cy="482.94" r="1.45" fill="#c60a29"/>
<circle cx="492.10" cy="488.72" r="1.45" fill="#c60a29"/>
<circle cx="481.00" cy="489.70" r="1.45" fill="#c60a29"/>
<circle cx="484.40" cy="490.85" r="1.45" fill="#c60a29"/>
<circle cx="488.50" cy="491.83" r="1.45" fill="#c60a29"/>
<circle cx="484.40" cy="493.79" r="1.45" fill="#c60a29"/>
<circle cx="488.50" cy="496.01" r="1.45" fill="#c60a29"/>
<circle cx="484.40" cy="498.06" r="1.45" fill="#c60a29"/>
<line x1="350.00" y1="500.10" x2="353.90" y2="500.10" stroke="#000" stroke-width="1.3"/>
<text transform="translate(345.60,503.20) scale(1.04,1)" font-size="9.9" text-anchor="end" >0</text>
<line x1="350.00" y1="482.32" x2="353.90" y2="482.32" stroke="#000" stroke-width="1.3"/>
<text transform="translate(345.60,485.42) scale(1.04,1)" font-size="9.9" text-anchor="end" >20</text>
<line x1="350.00" y1="464.54" x2="353.90" y2="464.54" stroke="#000" stroke-width="1.3"/>
<text transform="translate(345.60,467.64) scale(1.04,1)" font-size="9.9" text-anchor="end" >40</text>
<line x1="350.00" y1="446.76" x2="353.90" y2="446.76" stroke="#000" stroke-width="1.3"/>
<text transform="translate(345.60,449.86) scale(1.04,1)" font-size="9.9" text-anchor="end" >60</text>
<line x1="350.00" y1="428.98" x2="353.90" y2="428.98" stroke="#000" stroke-width="1.3"/>
<text transform="translate(345.60,432.08) scale(1.04,1)" font-size="9.9" text-anchor="end" >80</text>
<line x1="350.00" y1="411.20" x2="353.90" y2="411.20" stroke="#000" stroke-width="1.3"/>
<text transform="translate(345.60,414.30) scale(1.04,1)" font-size="9.9" text-anchor="end" >100</text>
<line x1="367.50" y1="500.10" x2="367.50" y2="503.70" stroke="#000" stroke-width="1.25"/>
<text x="367.50" y="514.80" font-size="10.0" text-anchor="middle" textLength="14.94" lengthAdjust="spacingAndGlyphs" >HD</text>
<line x1="391.40" y1="500.10" x2="391.40" y2="503.70" stroke="#000" stroke-width="1.25"/>
<text x="391.40" y="514.80" font-size="10.0" text-anchor="middle" textLength="18.23" lengthAdjust="spacingAndGlyphs" >CLL</text>
<line x1="415.50" y1="500.10" x2="415.50" y2="503.70" stroke="#000" stroke-width="1.25"/>
<text x="415.50" y="514.80" font-size="10.0" text-anchor="middle" textLength="14.94" lengthAdjust="spacingAndGlyphs" >HD</text>
<line x1="439.20" y1="500.10" x2="439.20" y2="503.70" stroke="#000" stroke-width="1.25"/>
<text x="439.20" y="514.80" font-size="10.0" text-anchor="middle" textLength="18.23" lengthAdjust="spacingAndGlyphs" >CLL</text>
<line x1="462.80" y1="500.10" x2="462.80" y2="503.70" stroke="#000" stroke-width="1.25"/>
<text x="462.80" y="514.80" font-size="10.0" text-anchor="middle" textLength="14.94" lengthAdjust="spacingAndGlyphs" >HD</text>
<line x1="486.60" y1="500.10" x2="486.60" y2="503.70" stroke="#000" stroke-width="1.25"/>
<text x="486.60" y="514.80" font-size="10.0" text-anchor="middle" textLength="18.23" lengthAdjust="spacingAndGlyphs" >CLL</text>
<line x1="359.00" y1="518.60" x2="401.50" y2="518.60" stroke="#000" stroke-width="1.1"/>
<text x="380.25" y="531.40" font-size="11.0" text-anchor="middle" textLength="33.15" lengthAdjust="spacingAndGlyphs" >Unstim.</text>
<line x1="408.60" y1="518.60" x2="447.90" y2="518.60" stroke="#000" stroke-width="1.1"/>
<text x="428.25" y="531.40" font-size="11.0" text-anchor="middle" textLength="21.83" lengthAdjust="spacingAndGlyphs" >CD3</text>
<line x1="455.00" y1="518.60" x2="495.30" y2="518.60" stroke="#000" stroke-width="1.1"/>
<text x="475.15" y="531.40" font-size="11.0" text-anchor="middle" textLength="36.51" lengthAdjust="spacingAndGlyphs" >CD3/28</text>
<polyline points="366.60,401.40 366.60,395.80 389.40,395.80 389.40,401.40" fill="none" stroke="#000" stroke-width="1.2"/>
<text transform="translate(378.00,392.30) scale(0.84,1)" font-size="11.4" text-anchor="middle" >ns</text>
<polyline points="415.00,401.40 415.00,395.80 437.40,395.80 437.40,401.40" fill="none" stroke="#000" stroke-width="1.2"/>
<text transform="translate(426.20,391.10) scale(0.84,1)" font-size="11.4" text-anchor="middle" >p=0.05</text>
<polyline points="461.20,401.40 461.20,395.80 483.70,395.80 483.70,401.40" fill="none" stroke="#000" stroke-width="1.2"/>
<use href="#ast" x="466.68" y="390.30"/>
<use href="#ast" x="470.53" y="390.30"/>
<use href="#ast" x="474.38" y="390.30"/>
<use href="#ast" x="478.23" y="390.30"/>
<text transform="translate(426.90,378.10) scale(0.975,1)" font-size="13.1" text-anchor="middle" >CD4</text>
<text transform="translate(320.60,434.03) rotate(-90)" font-size="12.1" text-anchor="start" textLength="13.26" lengthAdjust="spacingAndGlyphs" style="stroke-width:0.55px">(%)</text>
<text transform="translate(320.60,454.86) rotate(-90)" font-size="12.1" text-anchor="start" textLength="17.87" lengthAdjust="spacingAndGlyphs" style="stroke-width:0.55px">high</text>
<text transform="translate(320.60,487.10) rotate(-90)" font-size="12.1" text-anchor="start" textLength="30.41" lengthAdjust="spacingAndGlyphs" style="stroke-width:0.55px">2-NBDG</text>
<rect x="74.40" y="673.32" width="12.20" height="15.18" fill="#89a8c8" stroke="#7f9fc2" stroke-width="0.8"/>
<rect x="99.10" y="656.22" width="12.20" height="32.28" fill="#e2869b" stroke="#db7b91" stroke-width="0.8"/>
<rect x="123.80" y="662.11" width="12.20" height="26.39" fill="#89a8c8" stroke="#7f9fc2" stroke-width="0.8"/>
<rect x="148.50" y="634.75" width="12.20" height="53.75" fill="#e2869b" stroke="#db7b91" stroke-width="0.8"/>
<line x1="65.70" y1="589.60" x2="65.70" y2="689.20" stroke="#000" stroke-width="1.45"/>
<line x1="65.00" y1="688.50" x2="169.60" y2="688.50" stroke="#000" stroke-width="1.45"/>
<line x1="80.50" y1="674.06" x2="80.50" y2="671.78" stroke="#000" stroke-width="1.15"/>
<line x1="77.10" y1="674.06" x2="83.90" y2="674.06" stroke="#000" stroke-width="1.15"/>
<line x1="77.10" y1="671.78" x2="83.90" y2="671.78" stroke="#000" stroke-width="1.15"/>
<line x1="105.20" y1="655.63" x2="105.20" y2="651.64" stroke="#000" stroke-width="1.15"/>
<line x1="101.80" y1="655.63" x2="108.60" y2="655.63" stroke="#000" stroke-width="1.15"/>
<line x1="101.80" y1="651.64" x2="108.60" y2="651.64" stroke="#000" stroke-width="1.15"/>
<line x1="129.90" y1="663.23" x2="129.90" y2="658.86" stroke="#000" stroke-width="1.15"/>
<line x1="126.50" y1="663.23" x2="133.30" y2="663.23" stroke="#000" stroke-width="1.15"/>
<line x1="126.50" y1="658.86" x2="133.30" y2="658.86" stroke="#000" stroke-width="1.15"/>
<line x1="154.60" y1="638.53" x2="154.60" y2="629.60" stroke="#000" stroke-width="1.15"/>
<line x1="151.20" y1="638.53" x2="158.00" y2="638.53" stroke="#000" stroke-width="1.15"/>
<line x1="151.20" y1="629.60" x2="158.00" y2="629.60" stroke="#000" stroke-width="1.15"/>
<circle cx="80.50" cy="664.56" r="1.45" fill="#0e4b8b"/>
<circle cx="80.50" cy="667.98" r="1.45" fill="#0e4b8b"/>
<circle cx="74.50" cy="673.11" r="1.45" fill="#0e4b8b"/>
<circle cx="77.40" cy="673.87" r="1.45" fill="#0e4b8b"/>
<circle cx="80.50" cy="673.49" r="1.45" fill="#0e4b8b"/>
<circle cx="83.40" cy="673.49" r="1.45" fill="#0e4b8b"/>
<circle cx="86.20" cy="676.15" r="1.45" fill="#0e4b8b"/>
<circle cx="74.50" cy="676.34" r="1.45" fill="#0e4b8b"/>
<circle cx="82.10" cy="677.48" r="1.45" fill="#0e4b8b"/>
<circle cx="105.20" cy="641.57" r="1.45" fill="#c60a29"/>
<circle cx="99.30" cy="649.93" r="1.45" fill="#c60a29"/>
<circle cx="105.20" cy="649.74" r="1.45" fill="#c60a29"/>
<circle cx="111.00" cy="648.60" r="1.45" fill="#c60a29"/>
<circle cx="111.00" cy="653.54" r="1.45" fill="#c60a29"/>
<circle cx="99.30" cy="656.20" r="1.45" fill="#c60a29"/>
<circle cx="105.20" cy="655.82" r="1.45" fill="#c60a29"/>
<circle cx="111.00" cy="656.77" r="1.45" fill="#c60a29"/>
<circle cx="105.20" cy="659.43" r="1.45" fill="#c60a29"/>
<circle cx="105.20" cy="664.56" r="1.45" fill="#c60a29"/>
<circle cx="123.90" cy="652.97" r="1.45" fill="#0e4b8b"/>
<circle cx="129.70" cy="651.26" r="1.45" fill="#0e4b8b"/>
<circle cx="135.60" cy="650.31" r="1.45" fill="#0e4b8b"/>
<circle cx="135.60" cy="659.24" r="1.45" fill="#0e4b8b"/>
<circle cx="123.90" cy="664.37" r="1.45" fill="#0e4b8b"/>
<circle cx="129.70" cy="660.76" r="1.45" fill="#0e4b8b"/>
<circle cx="135.60" cy="664.56" r="1.45" fill="#0e4b8b"/>
<circle cx="129.70" cy="667.41" r="1.45" fill="#0e4b8b"/>
<circle cx="123.90" cy="671.21" r="1.45" fill="#0e4b8b"/>
<circle cx="135.60" cy="670.26" r="1.45" fill="#0e4b8b"/>
<circle cx="154.60" cy="607.75" r="1.45" fill="#c60a29"/>
<circle cx="154.60" cy="612.50" r="1.45" fill="#c60a29"/>
<circle cx="154.60" cy="623.90" r="1.45" fill="#c60a29"/>
<circle cx="151.60" cy="628.46" r="1.45" fill="#c60a29"/>
<circle cx="157.50" cy="628.27" r="1.45" fill="#c60a29"/>
<circle cx="154.60" cy="632.45" r="1.45" fill="#c60a29"/>
<circle cx="154.60" cy="640.24" r="1.45" fill="#c60a29"/>
<circle cx="151.60" cy="645.56" r="1.45" fill="#c60a29"/>
<circle cx="157.50" cy="645.18" r="1.45" fill="#c60a29"/>
<circle cx="151.60" cy="655.44" r="1.45" fill="#c60a29"/>
<circle cx="157.50" cy="653.35" r="1.45" fill="#c60a29"/>
<line x1="61.80" y1="688.50" x2="65.70" y2="688.50" stroke="#000" stroke-width="1.3"/>
<text transform="translate(57.40,691.60) scale(1.04,1)" font-size="9.9" text-anchor="end" >0</text>
<line x1="61.80" y1="669.50" x2="65.70" y2="669.50" stroke="#000" stroke-width="1.3"/>
<text transform="translate(57.40,672.60) scale(1.04,1)" font-size="9.9" text-anchor="end" >10000</text>
<line x1="61.80" y1="650.50" x2="65.70" y2="650.50" stroke="#000" stroke-width="1.3"/>
<text transform="translate(57.40,653.60) scale(1.04,1)" font-size="9.9" text-anchor="end" >20000</text>
<line x1="61.80" y1="631.50" x2="65.70" y2="631.50" stroke="#000" stroke-width="1.3"/>
<text transform="translate(57.40,634.60) scale(1.04,1)" font-size="9.9" text-anchor="end" >30000</text>
<line x1="61.80" y1="612.50" x2="65.70" y2="612.50" stroke="#000" stroke-width="1.3"/>
<text transform="translate(57.40,615.60) scale(1.04,1)" font-size="9.9" text-anchor="end" >40000</text>
<line x1="61.80" y1="593.50" x2="65.70" y2="593.50" stroke="#000" stroke-width="1.3"/>
<text transform="translate(57.40,596.60) scale(1.04,1)" font-size="9.9" text-anchor="end" >50000</text>
<line x1="80.50" y1="688.50" x2="80.50" y2="692.10" stroke="#000" stroke-width="1.25"/>
<text x="80.50" y="703.90" font-size="10.0" text-anchor="middle" textLength="14.94" lengthAdjust="spacingAndGlyphs" >HD</text>
<line x1="105.20" y1="688.50" x2="105.20" y2="692.10" stroke="#000" stroke-width="1.25"/>
<text x="105.20" y="703.90" font-size="10.0" text-anchor="middle" textLength="18.23" lengthAdjust="spacingAndGlyphs" >CLL</text>
<line x1="129.90" y1="688.50" x2="129.90" y2="692.10" stroke="#000" stroke-width="1.25"/>
<text x="129.90" y="703.90" font-size="10.0" text-anchor="middle" textLength="14.94" lengthAdjust="spacingAndGlyphs" >HD</text>
<line x1="154.60" y1="688.50" x2="154.60" y2="692.10" stroke="#000" stroke-width="1.25"/>
<text x="154.60" y="703.90" font-size="10.0" text-anchor="middle" textLength="18.23" lengthAdjust="spacingAndGlyphs" >CLL</text>
<line x1="72.90" y1="708.30" x2="114.20" y2="708.30" stroke="#000" stroke-width="1.1"/>
<text x="93.55" y="719.80" font-size="11.0" text-anchor="middle" textLength="33.15" lengthAdjust="spacingAndGlyphs" >Unstim.</text>
<line x1="121.90" y1="708.30" x2="164.20" y2="708.30" stroke="#000" stroke-width="1.1"/>
<text x="143.05" y="719.80" font-size="11.0" text-anchor="middle" textLength="36.51" lengthAdjust="spacingAndGlyphs" >CD3/28</text>
<polyline points="80.20,588.90 80.20,583.30 103.20,583.30 103.20,588.90" fill="none" stroke="#000" stroke-width="1.2"/>
<use href="#ast" x="85.92" y="577.80"/>
<use href="#ast" x="89.77" y="577.80"/>
<use href="#ast" x="93.62" y="577.80"/>
<use href="#ast" x="97.47" y="577.80"/>
<polyline points="131.20,588.90 131.20,583.30 154.20,583.30 154.20,588.90" fill="none" stroke="#000" stroke-width="1.2"/>
<use href="#ast" x="136.92" y="577.80"/>
<use href="#ast" x="140.77" y="577.80"/>
<use href="#ast" x="144.62" y="577.80"/>
<use href="#ast" x="148.47" y="577.80"/>
<text transform="translate(117.70,565.80) scale(0.975,1)" font-size="13.1" text-anchor="middle" >CD4</text>
<text transform="translate(19.90,623.73) rotate(-90)" font-size="12.1" text-anchor="start" textLength="20.25" lengthAdjust="spacingAndGlyphs" style="stroke-width:0.55px">(MFI)</text>
<text transform="translate(19.90,652.95) rotate(-90)" font-size="12.1" text-anchor="start" textLength="25.71" lengthAdjust="spacingAndGlyphs" style="stroke-width:0.55px">orange</text>
<text transform="translate(19.90,674.85) rotate(-90)" font-size="12.1" text-anchor="start" textLength="19.78" lengthAdjust="spacingAndGlyphs" style="stroke-width:0.55px">Mito.</text>
<rect x="258.30" y="682.31" width="12.20" height="6.29" fill="#89a8c8" stroke="#7f9fc2" stroke-width="0.8"/>
<rect x="282.90" y="654.97" width="12.20" height="33.63" fill="#e2869b" stroke="#db7b91" stroke-width="0.8"/>
<rect x="307.90" y="678.46" width="12.20" height="10.14" fill="#89a8c8" stroke="#7f9fc2" stroke-width="0.8"/>
<rect x="332.70" y="634.36" width="12.20" height="54.24" fill="#e2869b" stroke="#db7b91" stroke-width="0.8"/>
<line x1="249.90" y1="589.60" x2="249.90" y2="689.30" stroke="#000" stroke-width="1.45"/>
<line x1="249.20" y1="688.60" x2="353.70" y2="688.60" stroke="#000" stroke-width="1.45"/>
<line x1="264.40" y1="682.39" x2="264.40" y2="680.71" stroke="#000" stroke-width="1.15"/>
<line x1="261.00" y1="682.39" x2="267.80" y2="682.39" stroke="#000" stroke-width="1.15"/>
<line x1="261.00" y1="680.71" x2="267.80" y2="680.71" stroke="#000" stroke-width="1.15"/>
<line x1="289.00" y1="659.78" x2="289.00" y2="648.04" stroke="#000" stroke-width="1.15"/>
<line x1="285.60" y1="659.78" x2="292.40" y2="659.78" stroke="#000" stroke-width="1.15"/>
<line x1="285.60" y1="648.04" x2="292.40" y2="648.04" stroke="#000" stroke-width="1.15"/>
<line x1="314.00" y1="678.75" x2="314.00" y2="676.75" stroke="#000" stroke-width="1.15"/>
<line x1="310.60" y1="678.75" x2="317.40" y2="678.75" stroke="#000" stroke-width="1.15"/>
<line x1="310.60" y1="676.75" x2="317.40" y2="676.75" stroke="#000" stroke-width="1.15"/>
<line x1="338.80" y1="639.80" x2="338.80" y2="626.84" stroke="#000" stroke-width="1.15"/>
<line x1="335.40" y1="639.80" x2="342.20" y2="639.80" stroke="#000" stroke-width="1.15"/>
<line x1="335.40" y1="626.84" x2="342.20" y2="626.84" stroke="#000" stroke-width="1.15"/>
<circle cx="257.90" cy="679.28" r="1.45" fill="#0e4b8b"/>
<circle cx="259.90" cy="680.71" r="1.45" fill="#0e4b8b"/>
<circle cx="261.80" cy="679.28" r="1.45" fill="#0e4b8b"/>
<circle cx="264.80" cy="681.43" r="1.45" fill="#0e4b8b"/>
<circle cx="267.60" cy="678.08" r="1.45" fill="#0e4b8b"/>
<circle cx="268.90" cy="679.28" r="1.45" fill="#0e4b8b"/>
<circle cx="270.40" cy="682.39" r="1.45" fill="#0e4b8b"/>
<circle cx="257.90" cy="682.39" r="1.45" fill="#0e4b8b"/>
<circle cx="261.80" cy="682.39" r="1.45" fill="#0e4b8b"/>
<circle cx="266.20" cy="682.39" r="1.45" fill="#0e4b8b"/>
<circle cx="264.80" cy="684.54" r="1.45" fill="#0e4b8b"/>
<circle cx="268.40" cy="684.06" r="1.45" fill="#0e4b8b"/>
<circle cx="283.30" cy="618.31" r="1.45" fill="#c60a29"/>
<circle cx="289.00" cy="619.60" r="1.45" fill="#c60a29"/>
<circle cx="289.00" cy="655.14" r="1.45" fill="#c60a29"/>
<circle cx="283.30" cy="655.86" r="1.45" fill="#c60a29"/>
<circle cx="289.00" cy="658.87" r="1.45" fill="#c60a29"/>
<circle cx="283.30" cy="663.70" r="1.45" fill="#c60a29"/>
<circle cx="289.00" cy="663.10" r="1.45" fill="#c60a29"/>
<circle cx="295.00" cy="665.89" r="1.45" fill="#c60a29"/>
<circle cx="289.00" cy="668.02" r="1.45" fill="#c60a29"/>
<circle cx="289.00" cy="671.54" r="1.45" fill="#c60a29"/>
<circle cx="313.70" cy="670.63" r="1.45" fill="#0e4b8b"/>
<circle cx="308.00" cy="674.14" r="1.45" fill="#0e4b8b"/>
<circle cx="308.00" cy="677.15" r="1.45" fill="#0e4b8b"/>
<circle cx="313.70" cy="676.15" r="1.45" fill="#0e4b8b"/>
<circle cx="310.90" cy="678.75" r="1.45" fill="#0e4b8b"/>
<circle cx="316.60" cy="678.75" r="1.45" fill="#0e4b8b"/>
<circle cx="319.60" cy="678.35" r="1.45" fill="#0e4b8b"/>
<circle cx="310.90" cy="682.08" r="1.45" fill="#0e4b8b"/>
<circle cx="316.60" cy="681.38" r="1.45" fill="#0e4b8b"/>
<circle cx="313.70" cy="680.00" r="1.45" fill="#0e4b8b"/>
<circle cx="338.50" cy="602.63" r="1.45" fill="#c60a29"/>
<circle cx="338.50" cy="609.66" r="1.45" fill="#c60a29"/>
<circle cx="335.60" cy="619.91" r="1.45" fill="#c60a29"/>
<circle cx="341.50" cy="619.60" r="1.45" fill="#c60a29"/>
<circle cx="335.60" cy="625.34" r="1.45" fill="#c60a29"/>
<circle cx="341.50" cy="627.03" r="1.45" fill="#c60a29"/>
<circle cx="338.50" cy="632.27" r="1.45" fill="#c60a29"/>
<circle cx="338.50" cy="644.72" r="1.45" fill="#c60a29"/>
<circle cx="338.50" cy="656.77" r="1.45" fill="#c60a29"/>
<circle cx="341.50" cy="662.38" r="1.45" fill="#c60a29"/>
<circle cx="335.60" cy="664.60" r="1.45" fill="#c60a29"/>
<line x1="246.00" y1="688.60" x2="249.90" y2="688.60" stroke="#000" stroke-width="1.3"/>
<text transform="translate(241.60,691.70) scale(1.04,1)" font-size="9.9" text-anchor="end" >0</text>
<line x1="246.00" y1="664.70" x2="249.90" y2="664.70" stroke="#000" stroke-width="1.3"/>
<text transform="translate(241.60,667.80) scale(1.04,1)" font-size="9.9" text-anchor="end" >1000</text>
<line x1="246.00" y1="640.80" x2="249.90" y2="640.80" stroke="#000" stroke-width="1.3"/>
<text transform="translate(241.60,643.90) scale(1.04,1)" font-size="9.9" text-anchor="end" >2000</text>
<line x1="246.00" y1="616.90" x2="249.90" y2="616.90" stroke="#000" stroke-width="1.3"/>
<text transform="translate(241.60,620.00) scale(1.04,1)" font-size="9.9" text-anchor="end" >3000</text>
<line x1="246.00" y1="593.00" x2="249.90" y2="593.00" stroke="#000" stroke-width="1.3"/>
<text transform="translate(241.60,596.10) scale(1.04,1)" font-size="9.9" text-anchor="end" >4000</text>
<line x1="264.40" y1="688.60" x2="264.40" y2="692.20" stroke="#000" stroke-width="1.25"/>
<text x="264.40" y="704.20" font-size="10.0" text-anchor="middle" textLength="14.94" lengthAdjust="spacingAndGlyphs" >HD</text>
<line x1="289.00" y1="688.60" x2="289.00" y2="692.20" stroke="#000" stroke-width="1.25"/>
<text x="289.00" y="704.20" font-size="10.0" text-anchor="middle" textLength="18.23" lengthAdjust="spacingAndGlyphs" >CLL</text>
<line x1="314.00" y1="688.60" x2="314.00" y2="692.20" stroke="#000" stroke-width="1.25"/>
<text x="314.00" y="704.20" font-size="10.0" text-anchor="middle" textLength="14.94" lengthAdjust="spacingAndGlyphs" >HD</text>
<line x1="338.80" y1="688.60" x2="338.80" y2="692.20" stroke="#000" stroke-width="1.25"/>
<text x="338.80" y="704.20" font-size="10.0" text-anchor="middle" textLength="18.23" lengthAdjust="spacingAndGlyphs" >CLL</text>
<line x1="256.20" y1="708.10" x2="299.10" y2="708.10" stroke="#000" stroke-width="1.1"/>
<text x="277.65" y="719.30" font-size="11.0" text-anchor="middle" textLength="33.15" lengthAdjust="spacingAndGlyphs" >Unstim.</text>
<line x1="306.20" y1="708.10" x2="347.80" y2="708.10" stroke="#000" stroke-width="1.1"/>
<text x="327.00" y="719.30" font-size="11.0" text-anchor="middle" textLength="36.51" lengthAdjust="spacingAndGlyphs" >CD3/28</text>
<polyline points="264.00,588.90 264.00,583.30 287.40,583.30 287.40,588.90" fill="none" stroke="#000" stroke-width="1.2"/>
<use href="#ast" x="271.85" y="577.80"/>
<use href="#ast" x="275.70" y="577.80"/>
<use href="#ast" x="279.55" y="577.80"/>
<polyline points="316.40,588.90 316.40,583.30 339.80,583.30 339.80,588.90" fill="none" stroke="#000" stroke-width="1.2"/>
<use href="#ast" x="322.33" y="577.80"/>
<use href="#ast" x="326.18" y="577.80"/>
<use href="#ast" x="330.03" y="577.80"/>
<use href="#ast" x="333.88" y="577.80"/>
<text transform="translate(301.40,565.60) scale(0.975,1)" font-size="13.1" text-anchor="middle" >CD4</text>
<text transform="translate(208.90,631.23) rotate(-90)" font-size="12.1" text-anchor="start" textLength="20.25" lengthAdjust="spacingAndGlyphs" style="stroke-width:0.55px">(MFI)</text>
<text transform="translate(208.90,667.36) rotate(-90)" font-size="12.1" text-anchor="start" textLength="32.02" lengthAdjust="spacingAndGlyphs" style="stroke-width:0.55px">MitoSOX</text>
<rect x="422.80" y="631.69" width="12.20" height="56.81" fill="#89a8c8" stroke="#7f9fc2" stroke-width="0.8"/>
<rect x="448.50" y="644.91" width="12.20" height="43.59" fill="#e2869b" stroke="#db7b91" stroke-width="0.8"/>
<line x1="415.60" y1="590.30" x2="415.60" y2="689.20" stroke="#000" stroke-width="1.45"/>
<line x1="414.90" y1="688.50" x2="468.70" y2="688.50" stroke="#000" stroke-width="1.45"/>
<line x1="428.90" y1="636.20" x2="428.90" y2="624.87" stroke="#000" stroke-width="1.15"/>
<line x1="425.50" y1="636.20" x2="432.30" y2="636.20" stroke="#000" stroke-width="1.15"/>
<line x1="425.50" y1="624.87" x2="432.30" y2="624.87" stroke="#000" stroke-width="1.15"/>
<line x1="454.60" y1="652.63" x2="454.60" y2="635.64" stroke="#000" stroke-width="1.15"/>
<line x1="451.20" y1="652.63" x2="458.00" y2="652.63" stroke="#000" stroke-width="1.15"/>
<line x1="451.20" y1="635.64" x2="458.00" y2="635.64" stroke="#000" stroke-width="1.15"/>
<circle cx="426.10" cy="613.36" r="1.45" fill="#0e4b8b"/>
<circle cx="431.90" cy="613.36" r="1.45" fill="#0e4b8b"/>
<circle cx="429.10" cy="622.80" r="1.45" fill="#0e4b8b"/>
<circle cx="429.10" cy="626.20" r="1.45" fill="#0e4b8b"/>
<circle cx="426.10" cy="632.80" r="1.45" fill="#0e4b8b"/>
<circle cx="431.90" cy="631.86" r="1.45" fill="#0e4b8b"/>
<circle cx="429.10" cy="640.17" r="1.45" fill="#0e4b8b"/>
<circle cx="429.10" cy="663.20" r="1.45" fill="#0e4b8b"/>
<circle cx="454.60" cy="600.71" r="1.45" fill="#c60a29"/>
<circle cx="451.70" cy="639.98" r="1.45" fill="#c60a29"/>
<circle cx="457.50" cy="638.28" r="1.45" fill="#c60a29"/>
<circle cx="454.60" cy="645.83" r="1.45" fill="#c60a29"/>
<circle cx="454.60" cy="652.63" r="1.45" fill="#c60a29"/>
<circle cx="454.60" cy="662.45" r="1.45" fill="#c60a29"/>
<circle cx="454.60" cy="668.86" r="1.45" fill="#c60a29"/>
<line x1="411.70" y1="688.50" x2="415.60" y2="688.50" stroke="#000" stroke-width="1.3"/>
<text transform="translate(407.30,691.60) scale(1.04,1)" font-size="9.9" text-anchor="end" >0</text>
<line x1="411.70" y1="669.62" x2="415.60" y2="669.62" stroke="#000" stroke-width="1.3"/>
<text transform="translate(407.30,672.72) scale(1.04,1)" font-size="9.9" text-anchor="end" >1</text>
<line x1="411.70" y1="650.74" x2="415.60" y2="650.74" stroke="#000" stroke-width="1.3"/>
<text transform="translate(407.30,653.84) scale(1.04,1)" font-size="9.9" text-anchor="end" >2</text>
<line x1="411.70" y1="631.86" x2="415.60" y2="631.86" stroke="#000" stroke-width="1.3"/>
<text transform="translate(407.30,634.96) scale(1.04,1)" font-size="9.9" text-anchor="end" >3</text>
<line x1="411.70" y1="612.98" x2="415.60" y2="612.98" stroke="#000" stroke-width="1.3"/>
<text transform="translate(407.30,616.08) scale(1.04,1)" font-size="9.9" text-anchor="end" >4</text>
<line x1="411.70" y1="594.10" x2="415.60" y2="594.10" stroke="#000" stroke-width="1.3"/>
<text transform="translate(407.30,597.20) scale(1.04,1)" font-size="9.9" text-anchor="end" >5</text>
<line x1="428.90" y1="688.50" x2="428.90" y2="692.10" stroke="#000" stroke-width="1.25"/>
<text x="428.90" y="704.00" font-size="10.0" text-anchor="middle" textLength="14.94" lengthAdjust="spacingAndGlyphs" >HD</text>
<line x1="454.60" y1="688.50" x2="454.60" y2="692.10" stroke="#000" stroke-width="1.25"/>
<text x="454.60" y="704.00" font-size="10.0" text-anchor="middle" textLength="18.23" lengthAdjust="spacingAndGlyphs" >CLL</text>
<polyline points="428.80,589.90 428.80,584.30 455.60,584.30 455.60,589.90" fill="none" stroke="#000" stroke-width="1.2"/>
<text transform="translate(442.20,580.80) scale(0.84,1)" font-size="11.4" text-anchor="middle" >ns</text>
<text transform="translate(441.70,567.00) scale(0.975,1)" font-size="13.1" text-anchor="middle" >CD4</text>
<text transform="translate(393.20,631.81) rotate(-90)" font-size="12.1" text-anchor="start" textLength="31.49" lengthAdjust="spacingAndGlyphs" style="stroke-width:0.55px">increase)</text>
<text transform="translate(393.20,654.35) rotate(-90)" font-size="12.1" text-anchor="start" textLength="20.32" lengthAdjust="spacingAndGlyphs" style="stroke-width:0.55px">(fold</text>
<text transform="translate(393.20,678.87) rotate(-90)" font-size="12.1" text-anchor="start" textLength="21.67" lengthAdjust="spacingAndGlyphs" style="stroke-width:0.55px">MitoG</text>
<text transform="translate(9.00,19.40) scale(0.93,1)" font-size="15.4" text-anchor="start" font-weight="bold" style="stroke-width:0.75px">A</text>
<text transform="translate(9.50,203.00) scale(0.93,1)" font-size="15.4" text-anchor="start" font-weight="bold" style="stroke-width:0.75px">B</text>
<text transform="translate(204.50,203.00) scale(0.93,1)" font-size="15.4" text-anchor="start" font-weight="bold" style="stroke-width:0.75px">C</text>
<text transform="translate(9.50,384.20) scale(0.93,1)" font-size="15.4" text-anchor="start" font-weight="bold" style="stroke-width:0.75px">D</text>
<text transform="translate(310.50,380.00) scale(0.93,1)" font-size="15.4" text-anchor="start" font-weight="bold" style="stroke-width:0.75px">E</text>
<text transform="translate(8.70,570.00) scale(0.93,1)" font-size="15.4" text-anchor="start" font-weight="bold" style="stroke-width:0.75px">F</text>
<text transform="translate(198.40,570.00) scale(0.93,1)" font-size="15.4" text-anchor="start" font-weight="bold" style="stroke-width:0.75px">G</text>
<text transform="translate(384.30,569.50) scale(0.93,1)" font-size="15.4" text-anchor="start" font-weight="bold" style="stroke-width:0.75px">H</text>
<rect x="480.00" y="582.30" width="9.60" height="9.70" fill="#c8102e"/>
<rect x="480.00" y="598.90" width="9.20" height="9.30" fill="#1a4f86"/>
<text transform="translate(493.90,590.50) scale(0.9,1)" font-size="10.0" text-anchor="start" >CLL</text>
<text transform="translate(493.60,606.90) scale(0.91,1)" font-size="10.0" text-anchor="start" >HD</text>
<rect x="0.75" y="0.75" width="518.5" height="727.5" fill="none" stroke="#000" stroke-width="1.5"/>
</svg></body></html>
